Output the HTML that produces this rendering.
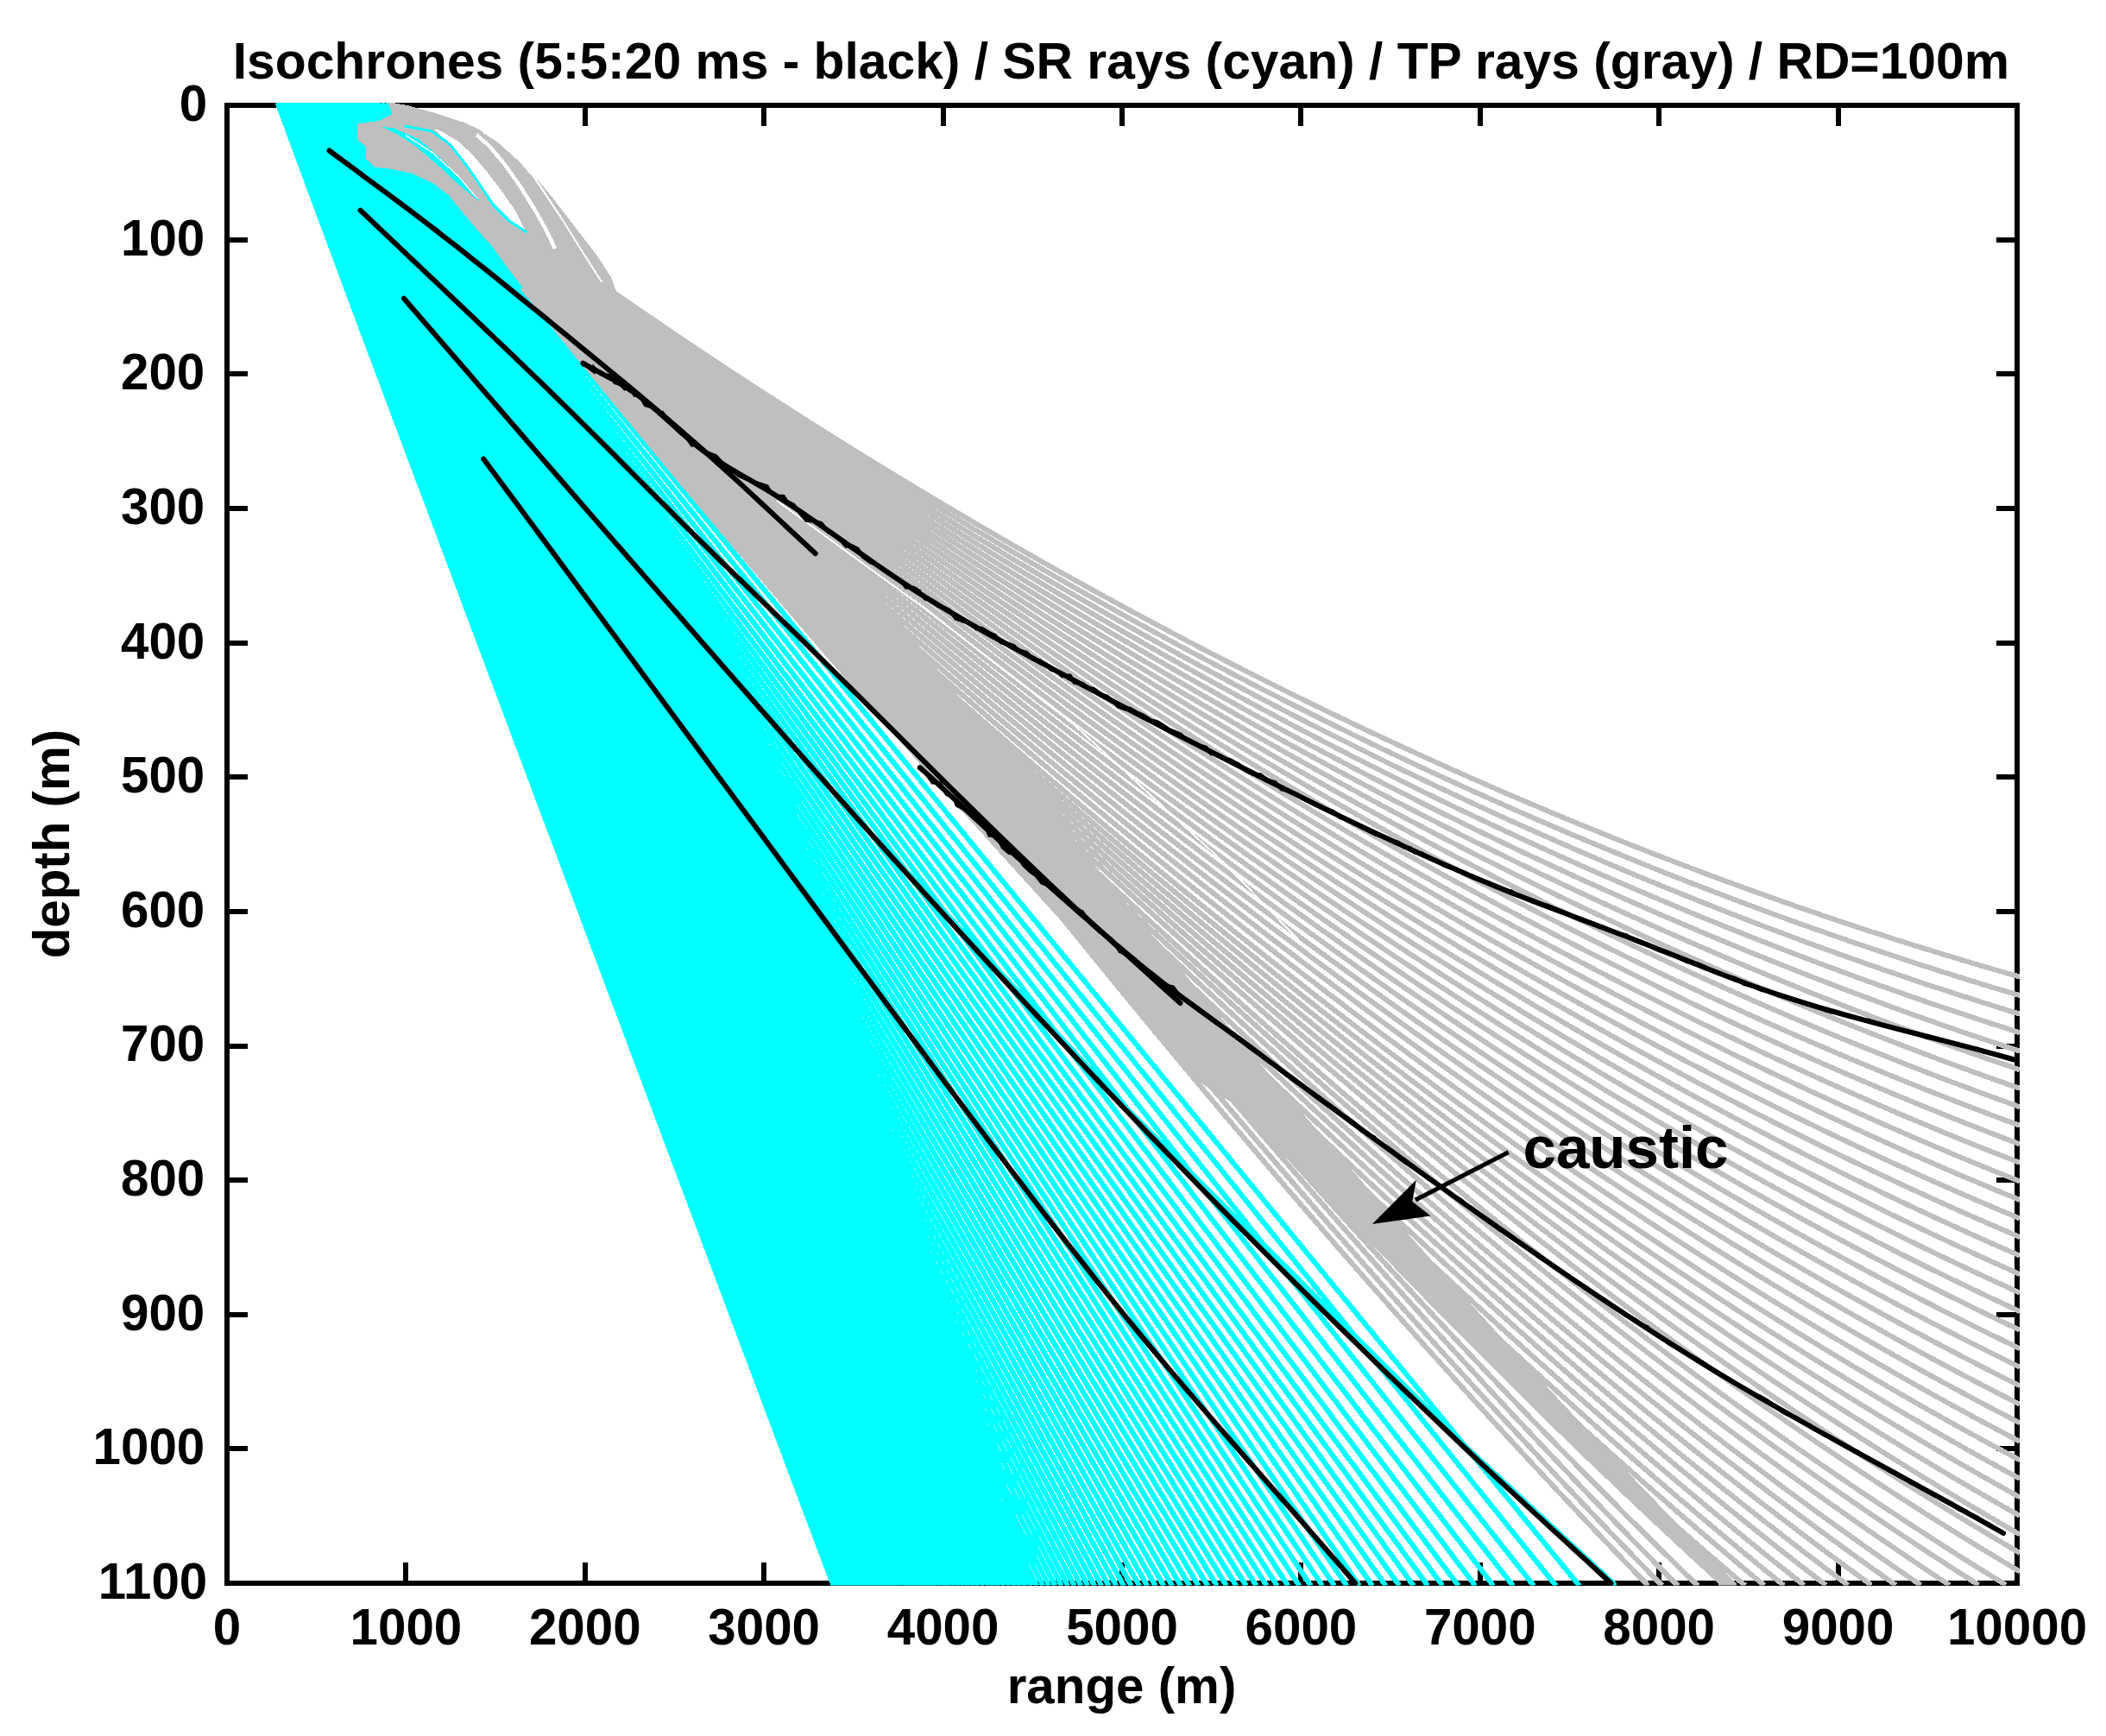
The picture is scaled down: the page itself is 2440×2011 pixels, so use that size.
<!DOCTYPE html><html><head><meta charset="utf-8"><title>Isochrones</title><style>html,body{margin:0;padding:0;background:#fff}svg{display:block}text{font-family:"Liberation Sans",sans-serif;font-weight:bold;fill:#000}</style></head><body>
<svg width="2440" height="2011" viewBox="0 0 2440 2011">
<rect width="2440" height="2011" fill="#fff"/>
<defs><clipPath id="c"><rect x="260.0" y="119.0" width="2080.0" height="1717.5"/></clipPath>
<clipPath id="g"><polygon points="449.0,116.5 471.8,120.5 502.6,129.0 536.8,140.1 553.8,147.8 570.9,158.1 588.0,173.5 605.1,188.8 622.2,205.9 639.3,226.4 656.4,248.7 673.5,270.9 690.6,293.1 707.7,318.8 714.5,337.5 730.0,348.4 780.0,382.4 830.0,415.7 880.0,448.4 930.0,480.5 980.0,511.9 1030.0,542.8 1080.0,573.0 1130.0,602.6 1180.0,631.5 1230.0,659.9 1280.0,687.6 1330.0,714.7 1380.0,741.1 1430.0,767.0 1480.0,792.2 1530.0,816.8 1580.0,840.7 1630.0,864.1 1680.0,886.8 1730.0,908.8 1780.0,930.3 1830.0,951.1 1880.0,971.4 1930.0,990.9 1980.0,1009.9 2030.0,1028.2 2080.0,1045.9 2130.0,1063.0 2180.0,1079.5 2230.0,1095.3 2280.0,1110.5 2330.0,1125.1 2345.0,1129.6 2345.0,1845.0 255.0,1845.0 255.0,117.0"/></clipPath></defs>
<g stroke="#000" stroke-width="6.0" fill="none" shape-rendering="crispEdges">
<rect x="263.0" y="122.0" width="2074.0" height="1712.0"/>
<path d="M470.4 1834.0V1810.0M470.4 122.0V146.0"/>
<path d="M677.8 1834.0V1810.0M677.8 122.0V146.0"/>
<path d="M885.2 1834.0V1810.0M885.2 122.0V146.0"/>
<path d="M1092.6 1834.0V1810.0M1092.6 122.0V146.0"/>
<path d="M1300.0 1834.0V1810.0M1300.0 122.0V146.0"/>
<path d="M1507.4 1834.0V1810.0M1507.4 122.0V146.0"/>
<path d="M1714.8 1834.0V1810.0M1714.8 122.0V146.0"/>
<path d="M1922.2 1834.0V1810.0M1922.2 122.0V146.0"/>
<path d="M2129.6 1834.0V1810.0M2129.6 122.0V146.0"/>
<path d="M263.0 277.6H287.0M2337.0 277.6H2313.0"/>
<path d="M263.0 433.3H287.0M2337.0 433.3H2313.0"/>
<path d="M263.0 588.9H287.0M2337.0 588.9H2313.0"/>
<path d="M263.0 744.6H287.0M2337.0 744.6H2313.0"/>
<path d="M263.0 900.2H287.0M2337.0 900.2H2313.0"/>
<path d="M263.0 1055.8H287.0M2337.0 1055.8H2313.0"/>
<path d="M263.0 1211.5H287.0M2337.0 1211.5H2313.0"/>
<path d="M263.0 1367.1H287.0M2337.0 1367.1H2313.0"/>
<path d="M263.0 1522.8H287.0M2337.0 1522.8H2313.0"/>
<path d="M263.0 1678.4H287.0M2337.0 1678.4H2313.0"/>
</g>
<g clip-path="url(#c)">
<g stroke="#00ffff" stroke-width="6.0" fill="none" shape-rendering="crispEdges">
<path d="M448.1 119.0L640.5 384.0L1829.9 1837.0M442.4 119.0L633.3 384.0L1802.8 1837.0M437.2 119.0L626.4 384.0L1777.1 1837.0M432.4 119.0L620.0 384.0L1753.0 1837.0M427.9 119.0L614.0 384.0L1730.4 1837.0M423.8 119.0L608.3 384.0L1709.3 1837.0M420.1 119.0L603.1 384.0L1689.7 1837.0M416.7 119.0L598.2 384.0L1671.4 1837.0M413.5 119.0L593.6 384.0L1654.3 1837.0M410.4 119.0L589.1 384.0L1637.7 1837.0M407.5 119.0L584.8 384.0L1621.4 1837.0M404.7 119.0L580.6 384.0L1605.6 1837.0M402.0 119.0L576.5 384.0L1590.1 1837.0M399.4 119.0L572.4 384.0L1575.1 1837.0M396.8 119.0L568.5 384.0L1560.4 1837.0M394.4 119.0L564.7 384.0L1546.1 1837.0M392.1 119.0L561.0 384.0L1532.2 1837.0M389.8 119.0L557.4 384.0L1518.6 1837.0M387.7 119.0L553.9 384.0L1505.3 1837.0M385.6 119.0L550.5 384.0L1492.4 1837.0M383.6 119.0L547.1 384.0L1479.8 1837.0M381.7 119.0L543.9 384.0L1467.6 1837.0M379.8 119.0L540.7 384.0L1455.6 1837.0M378.0 119.0L537.6 384.0L1443.8 1837.0M376.2 119.0L534.6 384.0L1432.3 1837.0M374.5 119.0L531.7 384.0L1421.0 1837.0M372.9 119.0L528.8 384.0L1410.0 1837.0M371.3 119.0L526.0 384.0L1399.2 1837.0M369.7 119.0L523.2 384.0L1388.6 1837.0M368.2 119.0L520.5 384.0L1378.2 1837.0M366.8 119.0L517.9 384.0L1368.1 1837.0M365.4 119.0L515.3 384.0L1358.1 1837.0M364.0 119.0L512.8 384.0L1348.3 1837.0M362.7 119.0L510.3 384.0L1338.7 1837.0M361.4 119.0L507.9 384.0L1329.2 1837.0M360.1 119.0L505.5 384.0L1320.0 1837.0M358.9 119.0L503.1 384.0L1310.9 1837.0M357.7 119.0L500.9 384.0L1302.0 1837.0M356.6 119.0L498.7 384.0L1293.3 1837.0M355.5 119.0L496.5 384.0L1284.7 1837.0M354.4 119.0L494.4 384.0L1276.4 1837.0M353.3 119.0L492.3 384.0L1268.2 1837.0M352.3 119.0L490.3 384.0L1260.3 1837.0M351.3 119.0L488.3 384.0L1252.5 1837.0M350.4 119.0L486.4 384.0L1244.8 1837.0M349.4 119.0L484.5 384.0L1237.2 1837.0M348.5 119.0L482.6 384.0L1229.8 1837.0M347.6 119.0L480.8 384.0L1222.5 1837.0M346.8 119.0L479.0 384.0L1215.3 1837.0M345.9 119.0L477.3 384.0L1208.2 1837.0M345.1 119.0L475.5 384.0L1201.3 1837.0M344.3 119.0L473.9 384.0L1194.6 1837.0M343.6 119.0L472.3 384.0L1188.1 1837.0M342.9 119.0L470.7 384.0L1181.8 1837.0M342.1 119.0L469.2 384.0L1175.5 1837.0M341.4 119.0L467.6 384.0L1169.3 1837.0M340.7 119.0L466.1 384.0L1163.1 1837.0M340.1 119.0L464.7 384.0L1157.0 1837.0M339.4 119.0L463.2 384.0L1151.0 1837.0M338.7 119.0L461.7 384.0L1145.1 1837.0M338.1 119.0L460.3 384.0L1139.2 1837.0M337.5 119.0L458.9 384.0L1133.4 1837.0M336.8 119.0L457.5 384.0L1127.6 1837.0M336.2 119.0L456.2 384.0L1122.0 1837.0M335.7 119.0L454.8 384.0L1116.4 1837.0M335.1 119.0L453.5 384.0L1110.8 1837.0M334.5 119.0L452.2 384.0L1105.3 1837.0M333.9 119.0L450.9 384.0L1099.9 1837.0M333.4 119.0L449.6 384.0L1094.6 1837.0M332.9 119.0L448.4 384.0L1089.3 1837.0M332.3 119.0L447.1 384.0L1084.0 1837.0M331.8 119.0L445.9 384.0L1078.9 1837.0M331.3 119.0L444.7 384.0L1073.8 1837.0M330.8 119.0L443.5 384.0L1068.7 1837.0M330.3 119.0L442.3 384.0L1063.7 1837.0M329.8 119.0L441.2 384.0L1058.8 1837.0M329.4 119.0L440.0 384.0L1053.9 1837.0M328.9 119.0L438.9 384.0L1049.1 1837.0M328.4 119.0L437.8 384.0L1044.3 1837.0M328.0 119.0L436.7 384.0L1039.6 1837.0M327.6 119.0L435.6 384.0L1034.9 1837.0M327.1 119.0L434.6 384.0L1030.3 1837.0M326.7 119.0L433.5 384.0L1025.8 1837.0M326.3 119.0L432.5 384.0L1021.3 1837.0M325.9 119.0L431.5 384.0L1016.8 1837.0M325.5 119.0L430.4 384.0L1012.4 1837.0M325.1 119.0L429.5 384.0L1008.1 1837.0M324.7 119.0L428.5 384.0L1003.8 1837.0M324.4 119.0L427.5 384.0L999.6 1837.0M324.0 119.0L426.6 384.0L995.4 1837.0M323.6 119.0L425.6 384.0L991.2 1837.0M323.3 119.0L424.7 384.0L987.1 1837.0M322.9 119.0L423.8 384.0L983.1 1837.0M322.6 119.0L422.9 384.0L979.1 1837.0M322.2 119.0L422.0 384.0L975.1 1837.0M321.9 119.0L421.1 384.0L971.2 1837.0M321.6 119.0L420.2 384.0L967.3 1837.0M321.5 119.0L419.9 384.0L965.7 1837.0"/>
<polyline points="1052.5,1011.3 1301.3,1280.0 1702.5,1680.0 1869.0,1834.0 1871.0,1837.0"/>
</g>
<g clip-path="url(#g)">
<g fill="#bfbfbf" stroke="none" shape-rendering="crispEdges">
<polygon points="449.0,118.0 471.8,122.0 502.6,130.5 536.8,141.6 553.8,149.3 570.9,159.6 588.0,175.0 605.1,190.3 622.2,207.4 639.3,227.9 656.4,250.2 673.5,272.4 690.6,294.6 707.7,320.3 714.5,339.0 716.0,336.0 760.0,372.0 652.0,384.0 635.9,366.4 605.1,332.2 588.0,310.0 570.9,286.1 553.8,267.3 536.8,246.8 519.7,226.2 502.6,212.6 476.9,200.6 451.3,195.5 434.2,193.8 423.9,183.5 423.9,169.8 413.7,161.3 413.7,143.3 439.3,139.9 447.9,135.6 454.7,132.2"/>
<polygon points="606.0,335.0 615.2,345.0 647.5,385.0 679.9,425.0 712.6,465.0 745.5,505.0 778.6,545.0 812.0,585.0 845.6,625.0 879.4,665.0 913.5,705.0 947.8,745.0 982.3,785.0 1017.2,825.0 1052.3,865.0 1087.7,905.0 1123.3,945.0 1159.3,985.0 1172.8,1000.0 1211.6,1040.0 1243.9,1080.0 1276.5,1120.0 1309.3,1160.0 1342.3,1200.0 1375.6,1240.0 1383.9,1250.0 1447.1,1290.0 1484.1,1330.0 1521.6,1370.0 1559.4,1410.0 1597.6,1450.0 1636.3,1490.0 1675.4,1530.0 1715.0,1570.0 1755.1,1610.0 1795.7,1650.0 1836.9,1690.0 1878.8,1730.0 1921.2,1770.0 1964.4,1810.0 1990.6,1834.0 1990.6,1838.0 2011.5,1838.0 2011.5,1834.0 1998.5,1821.0 1959.0,1781.0 1920.0,1741.0 1881.5,1701.0 1843.5,1661.0 1805.9,1621.0 1768.8,1581.0 1732.0,1541.0 1695.7,1501.0 1659.7,1461.0 1624.0,1421.0 1588.7,1381.0 1553.8,1341.0 1519.1,1301.0 1484.7,1261.0 1450.6,1221.0 1416.7,1181.0 1383.1,1141.0 1349.8,1101.0 1316.6,1061.0 1283.7,1021.0 1251.0,981.0 1218.6,941.0 1186.3,901.0 1154.3,861.0 1122.4,821.0 1090.8,781.0 1059.3,741.0 1028.1,701.0 997.0,661.0 966.1,621.0 935.4,581.0 904.9,541.0 874.5,501.0 844.4,461.0 814.4,421.0 784.5,381.0 754.9,341.0"/>
</g>
<g stroke="#bfbfbf" stroke-width="6.0" fill="none" shape-rendering="crispEdges">
<path d="M2340.2 1131.6L2337.0 1130.7L2313.0 1123.8L2289.0 1116.8L2265.0 1109.6L2241.0 1102.3L2217.0 1094.9L2193.0 1087.3L2169.0 1079.5L2145.0 1071.6L2121.0 1063.6L2097.0 1055.4L2073.0 1047.1L2049.0 1038.6L2025.0 1030.0L2001.0 1021.3L1977.0 1012.4L1953.0 1003.3L1929.0 994.2L1905.0 984.8L1881.0 975.4L1857.0 965.7L1833.0 956.0L1809.0 946.1L1785.0 936.0L1761.0 925.8L1737.0 915.5L1713.0 905.0L1689.0 894.4L1665.0 883.6L1641.0 872.7L1617.0 861.6L1593.0 850.4L1569.0 839.1L1545.0 827.6L1521.0 816.0L1497.0 804.2L1473.0 792.3L1449.0 780.2L1425.0 768.0L1401.0 755.7L1377.0 743.2L1353.0 730.5L1329.0 717.7L1305.0 704.8L1281.0 691.7L1257.0 678.5L1233.0 665.2L1209.0 651.6L1185.0 638.0L1161.0 624.2L1137.0 610.3L1113.0 596.2L1089.0 582.0L1065.0 567.6L1041.0 553.1L1017.0 538.4L993.0 523.6L969.0 508.7L945.0 493.6L921.0 478.4L897.0 463.0L873.0 447.5L849.0 431.8L825.0 416.0L801.0 400.0L777.0 383.9L753.0 367.7L729.0 351.3L709.0 337.6M2340.2 1153.1L2337.0 1152.2L2313.0 1145.1L2289.0 1137.8L2265.0 1130.3L2241.0 1122.7L2217.0 1115.0L2193.0 1107.1L2169.0 1099.1L2145.0 1090.9L2121.0 1082.6L2097.0 1074.2L2073.0 1065.6L2049.0 1056.8L2025.0 1047.9L2001.0 1038.9L1977.0 1029.7L1953.0 1020.4L1929.0 1011.0L1905.0 1001.4L1881.0 991.6L1857.0 981.7L1833.0 971.7L1809.0 961.5L1785.0 951.2L1761.0 940.7L1737.0 930.1L1713.0 919.3L1689.0 908.4L1665.0 897.4L1641.0 886.2L1617.0 874.8L1593.0 863.4L1569.0 851.7L1545.0 840.0L1521.0 828.1L1497.0 816.0L1473.0 803.8L1449.0 791.5L1425.0 779.0L1401.0 766.3L1377.0 753.6L1353.0 740.7L1329.0 727.6L1305.0 714.4L1281.0 701.0L1257.0 687.5L1233.0 673.9L1209.0 660.1L1185.0 646.2L1161.0 632.1L1137.0 617.9L1113.0 603.5L1089.0 589.0L1065.0 574.4L1041.0 559.6L1017.0 544.7L993.0 529.6L969.0 514.4L945.0 499.0L921.0 483.5L897.0 467.8L873.0 452.0L849.0 436.1L825.0 420.0L801.0 403.8L777.0 387.4L753.0 370.9L729.0 354.2L705.0 337.4L705.0 337.4M2340.2 1174.7L2337.0 1173.7L2313.0 1166.3L2289.0 1158.7L2265.0 1151.0L2241.0 1143.2L2217.0 1135.2L2193.0 1127.0L2169.0 1118.7L2145.0 1110.3L2121.0 1101.7L2097.0 1093.0L2073.0 1084.1L2049.0 1075.1L2025.0 1065.9L2001.0 1056.6L1977.0 1047.1L1953.0 1037.5L1929.0 1027.8L1905.0 1017.9L1881.0 1007.9L1857.0 997.7L1833.0 987.4L1809.0 976.9L1785.0 966.3L1761.0 955.6L1737.0 944.7L1713.0 933.7L1689.0 922.5L1665.0 911.2L1641.0 899.7L1617.0 888.1L1593.0 876.3L1569.0 864.4L1545.0 852.4L1521.0 840.2L1497.0 827.9L1473.0 815.4L1449.0 802.8L1425.0 790.0L1401.0 777.1L1377.0 764.1L1353.0 750.9L1329.0 737.5L1305.0 724.0L1281.0 710.4L1257.0 696.6L1233.0 682.7L1209.0 668.7L1185.0 654.5L1161.0 640.1L1137.0 625.6L1113.0 611.0L1089.0 596.2L1065.0 581.3L1041.0 566.2L1017.0 551.0L993.0 535.6L969.0 520.1L945.0 504.5L921.0 488.7L897.0 472.8L873.0 456.7L849.0 440.5L825.0 424.1L801.0 407.6L777.0 391.0L753.0 374.2L729.0 357.2L705.0 340.1L701.0 337.3M2340.2 1196.2L2337.0 1195.2L2313.0 1187.5L2289.0 1179.7L2265.0 1171.7L2241.0 1163.6L2217.0 1155.4L2193.0 1146.9L2169.0 1138.4L2145.0 1129.7L2121.0 1120.8L2097.0 1111.8L2073.0 1102.6L2049.0 1093.3L2025.0 1083.9L2001.0 1074.3L1977.0 1064.6L1953.0 1054.7L1929.0 1044.7L1905.0 1034.5L1881.0 1024.2L1857.0 1013.8L1833.0 1003.2L1809.0 992.5L1785.0 981.6L1761.0 970.6L1737.0 959.4L1713.0 948.1L1689.0 936.6L1665.0 925.0L1641.0 913.3L1617.0 901.4L1593.0 889.4L1569.0 877.2L1545.0 864.9L1521.0 852.4L1497.0 839.8L1473.0 827.0L1449.0 814.2L1425.0 801.1L1401.0 787.9L1377.0 774.6L1353.0 761.1L1329.0 747.5L1305.0 733.8L1281.0 719.9L1257.0 705.8L1233.0 691.6L1209.0 677.3L1185.0 662.8L1161.0 648.2L1137.0 633.4L1113.0 618.5L1089.0 603.4L1065.0 588.2L1041.0 572.9L1017.0 557.4L993.0 541.8L969.0 526.0L945.0 510.1L921.0 494.0L897.0 477.8L873.0 461.5L849.0 445.0L825.0 428.3L801.0 411.5L777.0 394.6L753.0 377.5L729.0 360.3L705.0 343.0L697.0 337.1M2340.2 1217.7L2337.0 1216.7L2313.0 1208.8L2289.0 1200.7L2265.0 1192.5L2241.0 1184.1L2217.0 1175.6L2193.0 1166.9L2169.0 1158.0L2145.0 1149.1L2121.0 1139.9L2097.0 1130.7L2073.0 1121.2L2049.0 1111.7L2025.0 1102.0L2001.0 1092.1L1977.0 1082.1L1953.0 1071.9L1929.0 1061.7L1905.0 1051.2L1881.0 1040.6L1857.0 1029.9L1833.0 1019.1L1809.0 1008.0L1785.0 996.9L1761.0 985.6L1737.0 974.1L1713.0 962.6L1689.0 950.8L1665.0 939.0L1641.0 926.9L1617.0 914.8L1593.0 902.5L1569.0 890.0L1545.0 877.4L1521.0 864.7L1497.0 851.8L1473.0 838.8L1449.0 825.6L1425.0 812.3L1401.0 798.8L1377.0 785.2L1353.0 771.5L1329.0 757.6L1305.0 743.5L1281.0 729.4L1257.0 715.0L1233.0 700.6L1209.0 686.0L1185.0 671.2L1161.0 656.3L1137.0 641.3L1113.0 626.1L1089.0 610.8L1065.0 595.3L1041.0 579.7L1017.0 563.9L993.0 548.0L969.0 531.9L945.0 515.7L921.0 499.4L897.0 482.9L873.0 466.3L849.0 449.5L825.0 432.6L801.0 415.6L777.0 398.3L753.0 381.0L729.0 363.5L705.0 345.9L693.0 337.0M2340.2 1239.3L2337.0 1238.2L2313.0 1230.0L2289.0 1221.7L2265.0 1213.2L2241.0 1204.6L2217.0 1195.8L2193.0 1186.8L2169.0 1177.8L2145.0 1168.5L2121.0 1159.1L2097.0 1149.6L2073.0 1139.9L2049.0 1130.0L2025.0 1120.1L2001.0 1109.9L1977.0 1099.6L1953.0 1089.2L1929.0 1078.7L1905.0 1067.9L1881.0 1057.1L1857.0 1046.1L1833.0 1035.0L1809.0 1023.7L1785.0 1012.2L1761.0 1000.7L1737.0 988.9L1713.0 977.1L1689.0 965.1L1665.0 952.9L1641.0 940.6L1617.0 928.2L1593.0 915.6L1569.0 902.9L1545.0 890.0L1521.0 877.0L1497.0 863.9L1473.0 850.6L1449.0 837.1L1425.0 823.5L1401.0 809.8L1377.0 795.9L1353.0 781.9L1329.0 767.7L1305.0 753.4L1281.0 739.0L1257.0 724.4L1233.0 709.6L1209.0 694.7L1185.0 679.7L1161.0 664.5L1137.0 649.2L1113.0 633.8L1089.0 618.1L1065.0 602.4L1041.0 586.5L1017.0 570.5L993.0 554.3L969.0 538.0L945.0 521.5L921.0 504.9L897.0 488.1L873.0 471.2L849.0 454.2L825.0 437.0L801.0 419.7L777.0 402.2L753.0 384.6L729.0 366.8L705.0 348.9L689.0 336.9M2340.2 1260.8L2337.0 1259.7L2313.0 1251.3L2289.0 1242.7L2265.0 1234.0L2241.0 1225.1L2217.0 1216.0L2193.0 1206.8L2169.0 1197.5L2145.0 1188.0L2121.0 1178.3L2097.0 1168.5L2073.0 1158.6L2049.0 1148.4L2025.0 1138.2L2001.0 1127.8L1977.0 1117.2L1953.0 1106.5L1929.0 1095.7L1905.0 1084.7L1881.0 1073.6L1857.0 1062.3L1833.0 1050.9L1809.0 1039.4L1785.0 1027.7L1761.0 1015.8L1737.0 1003.8L1713.0 991.7L1689.0 979.4L1665.0 967.0L1641.0 954.4L1617.0 941.7L1593.0 928.8L1569.0 915.8L1545.0 902.7L1521.0 889.4L1497.0 876.0L1473.0 862.4L1449.0 848.7L1425.0 834.8L1401.0 820.8L1377.0 806.7L1353.0 792.4L1329.0 777.9L1305.0 763.4L1281.0 748.6L1257.0 733.8L1233.0 718.7L1209.0 703.6L1185.0 688.3L1161.0 672.8L1137.0 657.2L1113.0 641.5L1089.0 625.6L1065.0 609.6L1041.0 593.4L1017.0 577.1L993.0 560.7L969.0 544.1L945.0 527.3L921.0 510.4L897.0 493.4L873.0 476.2L849.0 458.9L825.0 441.5L801.0 423.8L777.0 406.1L753.0 388.2L729.0 370.2L705.0 352.0L685.0 336.7M2340.2 1282.3L2337.0 1281.2L2313.0 1272.5L2289.0 1263.7L2265.0 1254.7L2241.0 1245.6L2217.0 1236.3L2193.0 1226.8L2169.0 1217.2L2145.0 1207.5L2121.0 1197.6L2097.0 1187.5L2073.0 1177.3L2049.0 1166.9L2025.0 1156.4L2001.0 1145.7L1977.0 1134.9L1953.0 1123.9L1929.0 1112.8L1905.0 1101.6L1881.0 1090.2L1857.0 1078.6L1833.0 1066.9L1809.0 1055.1L1785.0 1043.1L1761.0 1031.0L1737.0 1018.7L1713.0 1006.3L1689.0 993.8L1665.0 981.1L1641.0 968.2L1617.0 955.3L1593.0 942.1L1569.0 928.9L1545.0 915.4L1521.0 901.9L1497.0 888.2L1473.0 874.3L1449.0 860.3L1425.0 846.2L1401.0 831.9L1377.0 817.5L1353.0 802.9L1329.0 788.2L1305.0 773.4L1281.0 758.4L1257.0 743.2L1233.0 727.9L1209.0 712.5L1185.0 696.9L1161.0 681.2L1137.0 665.3L1113.0 649.3L1089.0 633.2L1065.0 616.9L1041.0 600.4L1017.0 583.9L993.0 567.1L969.0 550.3L945.0 533.2L921.0 516.1L897.0 498.8L873.0 481.3L849.0 463.7L825.0 446.0L801.0 428.1L777.0 410.1L753.0 391.9L729.0 373.6L705.0 355.2L681.0 336.6L681.0 336.6M2340.2 1303.9L2337.0 1302.7L2313.0 1293.8L2289.0 1284.7L2265.0 1275.5L2241.0 1266.1L2217.0 1256.6L2193.0 1246.9L2169.0 1237.0L2145.0 1227.0L2121.0 1216.8L2097.0 1206.5L2073.0 1196.0L2049.0 1185.4L2025.0 1174.6L2001.0 1163.7L1977.0 1152.6L1953.0 1141.3L1929.0 1130.0L1905.0 1118.4L1881.0 1106.8L1857.0 1095.0L1833.0 1083.0L1809.0 1070.9L1785.0 1058.6L1761.0 1046.3L1737.0 1033.7L1713.0 1021.0L1689.0 1008.2L1665.0 995.2L1641.0 982.1L1617.0 968.9L1593.0 955.5L1569.0 941.9L1545.0 928.2L1521.0 914.4L1497.0 900.4L1473.0 886.3L1449.0 872.1L1425.0 857.6L1401.0 843.1L1377.0 828.4L1353.0 813.6L1329.0 798.6L1305.0 783.4L1281.0 768.2L1257.0 752.8L1233.0 737.2L1209.0 721.5L1185.0 705.6L1161.0 689.7L1137.0 673.5L1113.0 657.2L1089.0 640.8L1065.0 624.2L1041.0 607.5L1017.0 590.7L993.0 573.7L969.0 556.5L945.0 539.3L921.0 521.8L897.0 504.2L873.0 486.5L849.0 468.7L825.0 450.7L801.0 432.5L777.0 414.2L753.0 395.8L729.0 377.2L705.0 358.5L681.0 339.6L677.0 336.4M2340.2 1325.4L2337.0 1324.2L2313.0 1315.1L2289.0 1305.7L2265.0 1296.3L2241.0 1286.6L2217.0 1276.8L2193.0 1266.9L2169.0 1256.8L2145.0 1246.5L2121.0 1236.1L2097.0 1225.5L2073.0 1214.8L2049.0 1203.9L2025.0 1192.9L2001.0 1181.7L1977.0 1170.3L1953.0 1158.8L1929.0 1147.2L1905.0 1135.4L1881.0 1123.4L1857.0 1111.4L1833.0 1099.1L1809.0 1086.7L1785.0 1074.2L1761.0 1061.6L1737.0 1048.8L1713.0 1035.8L1689.0 1022.7L1665.0 1009.5L1641.0 996.1L1617.0 982.6L1593.0 968.9L1569.0 955.1L1545.0 941.1L1521.0 927.0L1497.0 912.8L1473.0 898.4L1449.0 883.8L1425.0 869.2L1401.0 854.3L1377.0 839.4L1353.0 824.3L1329.0 809.0L1305.0 793.6L1281.0 778.1L1257.0 762.4L1233.0 746.5L1209.0 730.6L1185.0 714.4L1161.0 698.2L1137.0 681.8L1113.0 665.2L1089.0 648.5L1065.0 631.7L1041.0 614.7L1017.0 597.6L993.0 580.3L969.0 562.9L945.0 545.3L921.0 527.6L897.0 509.8L873.0 491.8L849.0 473.7L825.0 455.4L801.0 437.0L777.0 418.4L753.0 399.7L729.0 380.8L705.0 361.8L681.0 342.7L673.0 336.3M2340.2 1346.9L2337.0 1345.7L2313.0 1336.3L2289.0 1326.8L2265.0 1317.1L2241.0 1307.2L2217.0 1297.2L2193.0 1287.0L2169.0 1276.6L2145.0 1266.1L2121.0 1255.4L2097.0 1244.6L2073.0 1233.6L2049.0 1222.4L2025.0 1211.1L2001.0 1199.7L1977.0 1188.1L1953.0 1176.3L1929.0 1164.4L1905.0 1152.4L1881.0 1140.2L1857.0 1127.8L1833.0 1115.3L1809.0 1102.7L1785.0 1089.9L1761.0 1076.9L1737.0 1063.9L1713.0 1050.6L1689.0 1037.3L1665.0 1023.8L1641.0 1010.1L1617.0 996.3L1593.0 982.4L1569.0 968.3L1545.0 954.1L1521.0 939.7L1497.0 925.2L1473.0 910.5L1449.0 895.7L1425.0 880.7L1401.0 865.6L1377.0 850.4L1353.0 835.0L1329.0 819.5L1305.0 803.8L1281.0 788.0L1257.0 772.1L1233.0 756.0L1209.0 739.7L1185.0 723.3L1161.0 706.8L1137.0 690.1L1113.0 673.3L1089.0 656.3L1065.0 639.2L1041.0 622.0L1017.0 604.6L993.0 587.0L969.0 569.3L945.0 551.5L921.0 533.5L897.0 515.4L873.0 497.2L849.0 478.7L825.0 460.2L801.0 441.5L777.0 422.7L753.0 403.7L729.0 384.6L705.0 365.3L681.0 345.9L669.0 336.1M2340.2 1368.5L2337.0 1367.2L2313.0 1357.6L2289.0 1347.8L2265.0 1337.9L2241.0 1327.7L2217.0 1317.5L2193.0 1307.0L2169.0 1296.4L2145.0 1285.7L2121.0 1274.7L2097.0 1263.7L2073.0 1252.4L2049.0 1241.0L2025.0 1229.5L2001.0 1217.8L1977.0 1205.9L1953.0 1193.9L1929.0 1181.7L1905.0 1169.4L1881.0 1156.9L1857.0 1144.3L1833.0 1131.5L1809.0 1118.6L1785.0 1105.6L1761.0 1092.4L1737.0 1079.0L1713.0 1065.5L1689.0 1051.9L1665.0 1038.1L1641.0 1024.2L1617.0 1010.1L1593.0 995.9L1569.0 981.5L1545.0 967.0L1521.0 952.4L1497.0 937.6L1473.0 922.7L1449.0 907.6L1425.0 892.4L1401.0 877.0L1377.0 861.5L1353.0 845.9L1329.0 830.1L1305.0 814.1L1281.0 798.1L1257.0 781.8L1233.0 765.5L1209.0 748.9L1185.0 732.3L1161.0 715.5L1137.0 698.5L1113.0 681.4L1089.0 664.2L1065.0 646.8L1041.0 629.3L1017.0 611.6L993.0 593.8L969.0 575.9L945.0 557.8L921.0 539.5L897.0 521.1L873.0 502.6L849.0 483.9L825.0 465.1L801.0 446.1L777.0 427.0L753.0 407.8L729.0 388.4L705.0 368.8L681.0 349.2L665.0 336.0M2340.2 1390.0L2337.0 1388.7L2313.0 1378.9L2289.0 1368.8L2265.0 1358.7L2241.0 1348.3L2217.0 1337.8L2193.0 1327.1L2169.0 1316.3L2145.0 1305.3L2121.0 1294.1L2097.0 1282.8L2073.0 1271.3L2049.0 1259.6L2025.0 1247.8L2001.0 1235.9L1977.0 1223.7L1953.0 1211.5L1929.0 1199.0L1905.0 1186.5L1881.0 1173.7L1857.0 1160.9L1833.0 1147.8L1809.0 1134.6L1785.0 1121.3L1761.0 1107.8L1737.0 1094.2L1713.0 1080.5L1689.0 1066.6L1665.0 1052.5L1641.0 1038.3L1617.0 1024.0L1593.0 1009.5L1569.0 994.9L1545.0 980.1L1521.0 965.2L1497.0 950.1L1473.0 934.9L1449.0 919.6L1425.0 904.1L1401.0 888.5L1377.0 872.7L1353.0 856.8L1329.0 840.7L1305.0 824.5L1281.0 808.2L1257.0 791.7L1233.0 775.0L1209.0 758.2L1185.0 741.3L1161.0 724.2L1137.0 707.0L1113.0 689.7L1089.0 672.1L1065.0 654.5L1041.0 636.7L1017.0 618.8L993.0 600.7L969.0 582.5L945.0 564.1L921.0 545.6L897.0 526.9L873.0 508.1L849.0 489.2L825.0 470.1L801.0 450.9L777.0 431.5L753.0 412.0L729.0 392.3L705.0 372.5L681.0 352.5L661.0 335.8M2340.2 1411.5L2337.0 1410.2L2313.0 1400.1L2289.0 1389.9L2265.0 1379.5L2241.0 1368.9L2217.0 1358.1L2193.0 1347.2L2169.0 1336.1L2145.0 1324.9L2121.0 1313.5L2097.0 1301.9L2073.0 1290.2L2049.0 1278.3L2025.0 1266.2L2001.0 1254.0L1977.0 1241.6L1953.0 1229.1L1929.0 1216.4L1905.0 1203.6L1881.0 1190.6L1857.0 1177.4L1833.0 1164.2L1809.0 1150.7L1785.0 1137.1L1761.0 1123.4L1737.0 1109.5L1713.0 1095.5L1689.0 1081.3L1665.0 1067.0L1641.0 1052.5L1617.0 1037.9L1593.0 1023.2L1569.0 1008.3L1545.0 993.2L1521.0 978.1L1497.0 962.7L1473.0 947.3L1449.0 931.6L1425.0 915.9L1401.0 900.0L1377.0 883.9L1353.0 867.8L1329.0 851.4L1305.0 834.9L1281.0 818.3L1257.0 801.6L1233.0 784.7L1209.0 767.6L1185.0 750.4L1161.0 733.1L1137.0 715.6L1113.0 697.9L1089.0 680.2L1065.0 662.3L1041.0 644.2L1017.0 626.0L993.0 607.6L969.0 589.2L945.0 570.5L921.0 551.7L897.0 532.8L873.0 513.7L849.0 494.5L825.0 475.2L801.0 455.7L777.0 436.0L753.0 416.2L729.0 396.3L705.0 376.2L681.0 356.0L657.0 335.6L657.0 335.6M2340.2 1433.1L2337.0 1431.7L2313.0 1421.4L2289.0 1410.9L2265.0 1400.3L2241.0 1389.5L2217.0 1378.5L2193.0 1367.3L2169.0 1356.0L2145.0 1344.5L2121.0 1332.9L2097.0 1321.0L2073.0 1309.1L2049.0 1296.9L2025.0 1284.6L2001.0 1272.2L1977.0 1259.5L1953.0 1246.8L1929.0 1233.8L1905.0 1220.7L1881.0 1207.5L1857.0 1194.1L1833.0 1180.5L1809.0 1166.8L1785.0 1153.0L1761.0 1139.0L1737.0 1124.8L1713.0 1110.5L1689.0 1096.1L1665.0 1081.5L1641.0 1066.8L1617.0 1051.9L1593.0 1036.9L1569.0 1021.7L1545.0 1006.4L1521.0 991.0L1497.0 975.4L1473.0 959.6L1449.0 943.8L1425.0 927.7L1401.0 911.6L1377.0 895.3L1353.0 878.8L1329.0 862.2L1305.0 845.5L1281.0 828.6L1257.0 811.5L1233.0 794.4L1209.0 777.0L1185.0 759.6L1161.0 742.0L1137.0 724.2L1113.0 706.3L1089.0 688.3L1065.0 670.1L1041.0 651.8L1017.0 633.3L993.0 614.7L969.0 595.9L945.0 577.0L921.0 558.0L897.0 538.8L873.0 519.4L849.0 500.0L825.0 480.3L801.0 460.6L777.0 440.7L753.0 420.6L729.0 400.4L705.0 380.1L681.0 359.6L657.0 338.9L653.0 335.5M2340.2 1454.6L2337.0 1453.2L2313.0 1442.7L2289.0 1432.0L2265.0 1421.1L2241.0 1410.0L2217.0 1398.8L2193.0 1387.4L2169.0 1375.9L2145.0 1364.2L2121.0 1352.3L2097.0 1340.2L2073.0 1328.0L2049.0 1315.6L2025.0 1303.1L2001.0 1290.4L1977.0 1277.5L1953.0 1264.5L1929.0 1251.3L1905.0 1237.9L1881.0 1224.4L1857.0 1210.8L1833.0 1197.0L1809.0 1183.0L1785.0 1168.9L1761.0 1154.6L1737.0 1140.2L1713.0 1125.6L1689.0 1110.9L1665.0 1096.1L1641.0 1081.1L1617.0 1066.0L1593.0 1050.7L1569.0 1035.2L1545.0 1019.7L1521.0 1004.0L1497.0 988.1L1473.0 972.1L1449.0 955.9L1425.0 939.7L1401.0 923.2L1377.0 906.6L1353.0 889.9L1329.0 873.1L1305.0 856.0L1281.0 838.9L1257.0 821.6L1233.0 804.1L1209.0 786.6L1185.0 768.8L1161.0 751.0L1137.0 732.9L1113.0 714.8L1089.0 696.5L1065.0 678.0L1041.0 659.4L1017.0 640.7L993.0 621.8L969.0 602.8L945.0 583.6L921.0 564.3L897.0 544.8L873.0 525.2L849.0 505.5L825.0 485.6L801.0 465.5L777.0 445.4L753.0 425.0L729.0 404.6L705.0 384.0L681.0 363.2L657.0 342.3L649.0 335.3M2340.2 1476.1L2337.0 1474.7L2313.0 1463.9L2289.0 1453.0L2265.0 1441.9L2241.0 1430.6L2217.0 1419.2L2193.0 1407.6L2169.0 1395.8L2145.0 1383.8L2121.0 1371.7L2097.0 1359.4L2073.0 1347.0L2049.0 1334.3L2025.0 1321.5L2001.0 1308.6L1977.0 1295.5L1953.0 1282.2L1929.0 1268.7L1905.0 1255.2L1881.0 1241.4L1857.0 1227.5L1833.0 1213.4L1809.0 1199.2L1785.0 1184.8L1761.0 1170.3L1737.0 1155.6L1713.0 1140.8L1689.0 1125.8L1665.0 1110.7L1641.0 1095.5L1617.0 1080.1L1593.0 1064.5L1569.0 1048.8L1545.0 1033.0L1521.0 1017.0L1497.0 1000.9L1473.0 984.6L1449.0 968.2L1425.0 951.6L1401.0 934.9L1377.0 918.1L1353.0 901.1L1329.0 884.0L1305.0 866.7L1281.0 849.3L1257.0 831.7L1233.0 814.0L1209.0 796.1L1185.0 778.1L1161.0 760.0L1137.0 741.7L1113.0 723.3L1089.0 704.7L1065.0 686.0L1041.0 667.1L1017.0 648.1L993.0 629.0L969.0 609.7L945.0 590.3L921.0 570.7L897.0 551.0L873.0 531.1L849.0 511.1L825.0 490.9L801.0 470.6L777.0 450.2L753.0 429.6L729.0 408.8L705.0 388.0L681.0 366.9L657.0 345.8L645.0 335.1M2340.2 1497.7L2337.0 1496.2L2313.0 1485.2L2289.0 1474.1L2265.0 1462.8L2241.0 1451.3L2217.0 1439.6L2193.0 1427.7L2169.0 1415.7L2145.0 1403.5L2121.0 1391.2L2097.0 1378.6L2073.0 1365.9L2049.0 1353.1L2025.0 1340.0L2001.0 1326.8L1977.0 1313.5L1953.0 1299.9L1929.0 1286.3L1905.0 1272.4L1881.0 1258.4L1857.0 1244.3L1833.0 1229.9L1809.0 1215.5L1785.0 1200.8L1761.0 1186.1L1737.0 1171.1L1713.0 1156.0L1689.0 1140.8L1665.0 1125.4L1641.0 1109.9L1617.0 1094.2L1593.0 1078.4L1569.0 1062.5L1545.0 1046.4L1521.0 1030.1L1497.0 1013.7L1473.0 997.2L1449.0 980.5L1425.0 963.7L1401.0 946.7L1377.0 929.6L1353.0 912.4L1329.0 895.0L1305.0 877.4L1281.0 859.7L1257.0 841.9L1233.0 823.9L1209.0 805.8L1185.0 787.5L1161.0 769.1L1137.0 750.6L1113.0 731.9L1089.0 713.1L1065.0 694.1L1041.0 674.9L1017.0 655.7L993.0 636.3L969.0 616.7L945.0 597.0L921.0 577.2L897.0 557.2L873.0 537.0L849.0 516.8L825.0 496.3L801.0 475.8L777.0 455.1L753.0 434.2L729.0 413.2L705.0 392.1L681.0 370.8L657.0 349.3L641.0 335.0M2340.2 1519.2L2337.0 1517.7L2313.0 1506.5L2289.0 1495.1L2265.0 1483.6L2241.0 1471.9L2217.0 1460.0L2193.0 1447.9L2169.0 1435.6L2145.0 1423.2L2121.0 1410.6L2097.0 1397.9L2073.0 1384.9L2049.0 1371.8L2025.0 1358.5L2001.0 1345.1L1977.0 1331.5L1953.0 1317.7L1929.0 1303.8L1905.0 1289.7L1881.0 1275.5L1857.0 1261.1L1833.0 1246.5L1809.0 1231.8L1785.0 1216.9L1761.0 1201.8L1737.0 1186.7L1713.0 1171.3L1689.0 1155.8L1665.0 1140.2L1641.0 1124.4L1617.0 1108.5L1593.0 1092.4L1569.0 1076.2L1545.0 1059.8L1521.0 1043.3L1497.0 1026.6L1473.0 1009.8L1449.0 992.9L1425.0 975.8L1401.0 958.6L1377.0 941.2L1353.0 923.7L1329.0 906.0L1305.0 888.2L1281.0 870.3L1257.0 852.2L1233.0 833.9L1209.0 815.5L1185.0 797.0L1161.0 778.3L1137.0 759.5L1113.0 740.6L1089.0 721.5L1065.0 702.2L1041.0 682.8L1017.0 663.3L993.0 643.6L969.0 623.8L945.0 603.8L921.0 583.7L897.0 563.5L873.0 543.1L849.0 522.5L825.0 501.8L801.0 481.0L777.0 460.0L753.0 438.9L729.0 417.6L705.0 396.2L681.0 374.7L657.0 353.0L637.0 334.8M2340.2 1540.7L2337.0 1539.2L2313.0 1527.8L2289.0 1516.2L2265.0 1504.4L2241.0 1492.5L2217.0 1480.4L2193.0 1468.1L2169.0 1455.6L2145.0 1442.9L2121.0 1430.1L2097.0 1417.1L2073.0 1403.9L2049.0 1390.6L2025.0 1377.1L2001.0 1363.4L1977.0 1349.6L1953.0 1335.6L1929.0 1321.4L1905.0 1307.1L1881.0 1292.6L1857.0 1277.9L1833.0 1263.1L1809.0 1248.1L1785.0 1233.0L1761.0 1217.7L1737.0 1202.2L1713.0 1186.6L1689.0 1170.9L1665.0 1155.0L1641.0 1138.9L1617.0 1122.7L1593.0 1106.4L1569.0 1089.9L1545.0 1073.3L1521.0 1056.5L1497.0 1039.6L1473.0 1022.5L1449.0 1005.3L1425.0 988.0L1401.0 970.5L1377.0 952.8L1353.0 935.1L1329.0 917.1L1305.0 899.1L1281.0 880.8L1257.0 862.5L1233.0 844.0L1209.0 825.3L1185.0 806.6L1161.0 787.6L1137.0 768.5L1113.0 749.3L1089.0 729.9L1065.0 710.4L1041.0 690.8L1017.0 671.0L993.0 651.0L969.0 631.0L945.0 610.7L921.0 590.4L897.0 569.8L873.0 549.2L849.0 528.4L825.0 507.4L801.0 486.3L777.0 465.1L753.0 443.7L729.0 422.2L705.0 400.5L681.0 378.7L657.0 356.7L633.0 334.6L633.0 334.6M2340.2 1562.2L2337.0 1560.7L2313.0 1549.1L2289.0 1537.3L2265.0 1525.3L2241.0 1513.1L2217.0 1500.8L2193.0 1488.3L2169.0 1475.5L2145.0 1462.7L2121.0 1449.6L2097.0 1436.4L2073.0 1423.0L2049.0 1409.4L2025.0 1395.7L2001.0 1381.8L1977.0 1367.7L1953.0 1353.4L1929.0 1339.0L1905.0 1324.4L1881.0 1309.7L1857.0 1294.8L1833.0 1279.7L1809.0 1264.5L1785.0 1249.1L1761.0 1233.6L1737.0 1217.9L1713.0 1202.0L1689.0 1186.0L1665.0 1169.8L1641.0 1153.5L1617.0 1137.1L1593.0 1120.5L1569.0 1103.7L1545.0 1086.8L1521.0 1069.8L1497.0 1052.6L1473.0 1035.3L1449.0 1017.8L1425.0 1000.2L1401.0 982.5L1377.0 964.6L1353.0 946.5L1329.0 928.3L1305.0 910.0L1281.0 891.5L1257.0 872.9L1233.0 854.1L1209.0 835.2L1185.0 816.2L1161.0 797.0L1137.0 777.6L1113.0 758.1L1089.0 738.5L1065.0 718.7L1041.0 698.8L1017.0 678.8L993.0 658.6L969.0 638.2L945.0 617.7L921.0 597.1L897.0 576.3L873.0 555.4L849.0 534.3L825.0 513.1L801.0 491.7L777.0 470.2L753.0 448.6L729.0 426.8L705.0 404.9L681.0 382.8L657.0 360.6L633.0 338.2L629.0 334.5M2340.2 1583.8L2337.0 1582.2L2313.0 1570.4L2289.0 1558.3L2265.0 1546.1L2241.0 1533.8L2217.0 1521.2L2193.0 1508.4L2169.0 1495.5L2145.0 1482.4L2121.0 1469.1L2097.0 1455.7L2073.0 1442.0L2049.0 1428.2L2025.0 1414.3L2001.0 1400.1L1977.0 1385.8L1953.0 1371.3L1929.0 1356.6L1905.0 1341.8L1881.0 1326.8L1857.0 1311.7L1833.0 1296.4L1809.0 1280.9L1785.0 1265.3L1761.0 1249.5L1737.0 1233.5L1713.0 1217.4L1689.0 1201.2L1665.0 1184.8L1641.0 1168.2L1617.0 1151.5L1593.0 1134.6L1569.0 1117.6L1545.0 1100.4L1521.0 1083.1L1497.0 1065.7L1473.0 1048.1L1449.0 1030.4L1425.0 1012.5L1401.0 994.5L1377.0 976.3L1353.0 958.0L1329.0 939.6L1305.0 921.0L1281.0 902.2L1257.0 883.4L1233.0 864.3L1209.0 845.2L1185.0 825.8L1161.0 806.4L1137.0 786.8L1113.0 767.0L1089.0 747.1L1065.0 727.1L1041.0 706.9L1017.0 686.6L993.0 666.1L969.0 645.5L945.0 624.8L921.0 603.9L897.0 582.8L873.0 561.6L849.0 540.3L825.0 518.8L801.0 497.2L777.0 475.5L753.0 453.5L729.0 431.5L705.0 409.3L681.0 387.0L657.0 364.5L633.0 341.9L625.0 334.3M2340.2 1605.3L2337.0 1603.7L2313.0 1591.7L2289.0 1579.4L2265.0 1567.0L2241.0 1554.4L2217.0 1541.6L2193.0 1528.7L2169.0 1515.5L2145.0 1502.2L2121.0 1488.7L2097.0 1475.0L2073.0 1461.1L2049.0 1447.1L2025.0 1432.9L2001.0 1418.5L1977.0 1403.9L1953.0 1389.2L1929.0 1374.3L1905.0 1359.3L1881.0 1344.0L1857.0 1328.6L1833.0 1313.1L1809.0 1297.4L1785.0 1281.5L1761.0 1265.4L1737.0 1249.2L1713.0 1232.9L1689.0 1216.4L1665.0 1199.7L1641.0 1182.9L1617.0 1165.9L1593.0 1148.8L1569.0 1131.5L1545.0 1114.1L1521.0 1096.6L1497.0 1078.9L1473.0 1061.0L1449.0 1043.0L1425.0 1024.9L1401.0 1006.6L1377.0 988.2L1353.0 969.6L1329.0 950.9L1305.0 932.0L1281.0 913.0L1257.0 893.9L1233.0 874.6L1209.0 855.2L1185.0 835.6L1161.0 815.9L1137.0 796.0L1113.0 776.0L1089.0 755.8L1065.0 735.6L1041.0 715.1L1017.0 694.5L993.0 673.8L969.0 652.9L945.0 631.9L921.0 610.8L897.0 589.4L873.0 568.0L849.0 546.4L825.0 524.7L801.0 502.8L777.0 480.8L753.0 458.6L729.0 436.3L705.0 413.8L681.0 391.2L657.0 368.5L633.0 345.6L625.0 337.9M2340.2 1626.8L2337.0 1625.2L2313.0 1612.9L2289.0 1600.5L2265.0 1587.9L2241.0 1575.1L2217.0 1562.1L2193.0 1548.9L2169.0 1535.5L2145.0 1522.0L2121.0 1508.2L2097.0 1494.3L2073.0 1480.2L2049.0 1466.0L2025.0 1451.5L2001.0 1436.9L1977.0 1422.1L1953.0 1407.2L1929.0 1392.0L1905.0 1376.7L1881.0 1361.3L1857.0 1345.6L1833.0 1329.8L1809.0 1313.9L1785.0 1297.7L1761.0 1281.5L1737.0 1265.0L1713.0 1248.4L1689.0 1231.6L1665.0 1214.7L1641.0 1197.6L1617.0 1180.4L1593.0 1163.0L1569.0 1145.5L1545.0 1127.8L1521.0 1110.0L1497.0 1092.1L1473.0 1074.0L1449.0 1055.7L1425.0 1037.3L1401.0 1018.8L1377.0 1000.1L1353.0 981.3L1329.0 962.3L1305.0 943.2L1281.0 923.9L1257.0 904.5L1233.0 884.9L1209.0 865.3L1185.0 845.4L1161.0 825.4L1137.0 805.3L1113.0 785.0L1089.0 764.6L1065.0 744.1L1041.0 723.4L1017.0 702.5L993.0 681.5L969.0 660.4L945.0 639.1L921.0 617.7L897.0 596.1L873.0 574.4L849.0 552.6L825.0 530.6L801.0 508.4L777.0 486.2L753.0 463.7L729.0 441.2L705.0 418.4L681.0 395.6L657.0 372.6L633.0 349.4L621.0 337.8M2340.2 1648.4L2337.0 1646.7L2313.0 1634.2L2289.0 1621.6L2265.0 1608.7L2241.0 1595.7L2217.0 1582.5L2193.0 1569.1L2169.0 1555.5L2145.0 1541.7L2121.0 1527.8L2097.0 1513.7L2073.0 1499.3L2049.0 1484.9L2025.0 1470.2L2001.0 1455.3L1977.0 1440.3L1953.0 1425.1L1929.0 1409.8L1905.0 1394.2L1881.0 1378.5L1857.0 1362.6L1833.0 1346.6L1809.0 1330.4L1785.0 1314.0L1761.0 1297.5L1737.0 1280.8L1713.0 1264.0L1689.0 1246.9L1665.0 1229.8L1641.0 1212.5L1617.0 1195.0L1593.0 1177.3L1569.0 1159.6L1545.0 1141.6L1521.0 1123.6L1497.0 1105.3L1473.0 1087.0L1449.0 1068.5L1425.0 1049.8L1401.0 1031.0L1377.0 1012.0L1353.0 993.0L1329.0 973.7L1305.0 954.4L1281.0 934.8L1257.0 915.2L1233.0 895.4L1209.0 875.4L1185.0 855.3L1161.0 835.1L1137.0 814.7L1113.0 794.2L1089.0 773.5L1065.0 752.7L1041.0 731.7L1017.0 710.6L993.0 689.4L969.0 668.0L945.0 646.4L921.0 624.7L897.0 602.9L873.0 581.0L849.0 558.8L825.0 536.6L801.0 514.2L777.0 491.6L753.0 468.9L729.0 446.1L705.0 423.1L681.0 400.0L657.0 376.8L633.0 353.3L617.0 337.7M2340.2 1669.9L2337.0 1668.2L2313.0 1655.5L2289.0 1642.7L2265.0 1629.6L2241.0 1616.4L2217.0 1603.0L2193.0 1589.3L2169.0 1575.5L2145.0 1561.5L2121.0 1547.4L2097.0 1533.0L2073.0 1518.5L2049.0 1503.8L2025.0 1488.9L2001.0 1473.8L1977.0 1458.5L1953.0 1443.1L1929.0 1427.5L1905.0 1411.8L1881.0 1395.8L1857.0 1379.7L1833.0 1363.4L1809.0 1347.0L1785.0 1330.4L1761.0 1313.6L1737.0 1296.7L1713.0 1279.6L1689.0 1262.3L1665.0 1244.9L1641.0 1227.3L1617.0 1209.6L1593.0 1191.7L1569.0 1173.7L1545.0 1155.5L1521.0 1137.1L1497.0 1118.7L1473.0 1100.0L1449.0 1081.3L1425.0 1062.3L1401.0 1043.3L1377.0 1024.1L1353.0 1004.7L1329.0 985.2L1305.0 965.6L1281.0 945.8L1257.0 925.9L1233.0 905.8L1209.0 885.6L1185.0 865.3L1161.0 844.8L1137.0 824.1L1113.0 803.3L1089.0 782.4L1065.0 761.3L1041.0 740.1L1017.0 718.8L993.0 697.2L969.0 675.6L945.0 653.8L921.0 631.9L897.0 609.8L873.0 587.5L849.0 565.2L825.0 542.7L801.0 520.0L777.0 497.2L753.0 474.3L729.0 451.2L705.0 427.9L681.0 404.5L657.0 381.0L633.0 357.4L613.0 337.5M2340.2 1691.4L2337.0 1689.7L2313.0 1676.8L2289.0 1663.8L2265.0 1650.5L2241.0 1637.1L2217.0 1623.4L2193.0 1609.6L2169.0 1595.6L2145.0 1581.4L2121.0 1567.0L2097.0 1552.4L2073.0 1537.6L2049.0 1522.7L2025.0 1507.6L2001.0 1492.3L1977.0 1476.8L1953.0 1461.1L1929.0 1445.3L1905.0 1429.3L1881.0 1413.1L1857.0 1396.8L1833.0 1380.3L1809.0 1363.6L1785.0 1346.7L1761.0 1329.7L1737.0 1312.5L1713.0 1295.2L1689.0 1277.7L1665.0 1260.0L1641.0 1242.2L1617.0 1224.2L1593.0 1206.1L1569.0 1187.8L1545.0 1169.4L1521.0 1150.8L1497.0 1132.0L1473.0 1113.2L1449.0 1094.1L1425.0 1075.0L1401.0 1055.6L1377.0 1036.2L1353.0 1016.6L1329.0 996.8L1305.0 976.9L1281.0 956.9L1257.0 936.7L1233.0 916.4L1209.0 895.9L1185.0 875.3L1161.0 854.5L1137.0 833.6L1113.0 812.6L1089.0 791.4L1065.0 770.1L1041.0 748.6L1017.0 727.0L993.0 705.2L969.0 683.3L945.0 661.2L921.0 639.1L897.0 616.7L873.0 594.2L849.0 571.6L825.0 548.8L801.0 525.9L777.0 502.8L753.0 479.6L729.0 456.3L705.0 432.8L681.0 409.2L657.0 385.4L633.0 361.4L609.0 337.4L609.0 337.4M2340.2 1712.9L2337.0 1711.2L2313.0 1698.1L2289.0 1684.8L2265.0 1671.2L2241.0 1657.5L2217.0 1643.6L2193.0 1629.6L2169.0 1615.3L2145.0 1600.8L2121.0 1586.1L2097.0 1571.3L2073.0 1556.3L2049.0 1541.1L2025.0 1525.7L2001.0 1510.1L1977.0 1494.4L1953.0 1478.4L1929.0 1462.3L1905.0 1446.0L1881.0 1429.6L1857.0 1412.9L1833.0 1396.1L1809.0 1379.2L1785.0 1362.0L1761.0 1344.7L1737.0 1327.3L1713.0 1309.6L1689.0 1291.8L1665.0 1273.9L1641.0 1255.8L1617.0 1237.5L1593.0 1219.1L1569.0 1200.5L1545.0 1181.7L1521.0 1162.9L1497.0 1143.8L1473.0 1124.6L1449.0 1105.3L1425.0 1085.8L1401.0 1066.2L1377.0 1046.4L1353.0 1026.5L1329.0 1006.5L1305.0 986.3L1281.0 965.9L1257.0 945.5L1233.0 924.8L1209.0 904.1L1185.0 883.1L1161.0 862.1L1137.0 840.9L1113.0 819.5L1089.0 798.0L1065.0 776.4L1041.0 754.6L1017.0 732.7L993.0 710.6L969.0 688.4L945.0 666.1L921.0 643.6L897.0 620.9L873.0 598.1L849.0 575.2L825.0 552.1L801.0 528.9L777.0 505.5L753.0 482.0L729.0 458.4L705.0 434.6L681.0 410.6L657.0 386.5L633.0 362.3L609.0 337.9L609.0 337.9M2340.2 1734.5L2337.0 1732.7L2313.0 1719.3L2289.0 1705.7L2265.0 1692.0L2241.0 1678.0L2217.0 1663.8L2193.0 1649.5L2169.0 1634.9L2145.0 1620.2L2121.0 1605.2L2097.0 1590.1L2073.0 1574.8L2049.0 1559.3L2025.0 1543.7L2001.0 1527.8L1977.0 1511.8L1953.0 1495.6L1929.0 1479.2L1905.0 1462.6L1881.0 1445.9L1857.0 1428.9L1833.0 1411.8L1809.0 1394.6L1785.0 1377.1L1761.0 1359.5L1737.0 1341.8L1713.0 1323.8L1689.0 1305.8L1665.0 1287.5L1641.0 1269.1L1617.0 1250.5L1593.0 1231.8L1569.0 1212.9L1545.0 1193.8L1521.0 1174.6L1497.0 1155.3L1473.0 1135.8L1449.0 1116.2L1425.0 1096.4L1401.0 1076.4L1377.0 1056.4L1353.0 1036.1L1329.0 1015.8L1305.0 995.3L1281.0 974.6L1257.0 953.8L1233.0 932.9L1209.0 911.8L1185.0 890.6L1161.0 869.2L1137.0 847.7L1113.0 826.0L1089.0 804.2L1065.0 782.3L1041.0 760.2L1017.0 737.9L993.0 715.6L969.0 693.0L945.0 670.4L921.0 647.6L897.0 624.6L873.0 601.5L849.0 578.3L825.0 554.9L801.0 531.3L777.0 507.7L753.0 483.8L729.0 459.9L705.0 435.8L681.0 411.5L657.0 387.1L633.0 362.6L609.0 337.9L609.0 337.9M2340.2 1756.0L2337.0 1754.2L2313.0 1740.6L2289.0 1726.7L2265.0 1712.7L2241.0 1698.4L2217.0 1684.0L2193.0 1669.4L2169.0 1654.6L2145.0 1639.6L2121.0 1624.4L2097.0 1609.0L2073.0 1593.4L2049.0 1577.6L2025.0 1561.7L2001.0 1545.5L1977.0 1529.2L1953.0 1512.7L1929.0 1496.0L1905.0 1479.2L1881.0 1462.1L1857.0 1444.9L1833.0 1427.5L1809.0 1410.0L1785.0 1392.3L1761.0 1374.4L1737.0 1356.3L1713.0 1338.1L1689.0 1319.7L1665.0 1301.1L1641.0 1282.4L1617.0 1263.5L1593.0 1244.5L1569.0 1225.3L1545.0 1205.9L1521.0 1186.4L1497.0 1166.8L1473.0 1147.0L1449.0 1127.0L1425.0 1106.9L1401.0 1086.7L1377.0 1066.3L1353.0 1045.8L1329.0 1025.1L1305.0 1004.3L1281.0 983.3L1257.0 962.2L1233.0 940.9L1209.0 919.6L1185.0 898.0L1161.0 876.3L1137.0 854.5L1113.0 832.5L1089.0 810.4L1065.0 788.2L1041.0 765.8L1017.0 743.2L993.0 720.5L969.0 697.7L945.0 674.7L921.0 651.6L897.0 628.3L873.0 604.9L849.0 581.3L825.0 557.6L801.0 533.8L777.0 509.8L753.0 485.7L729.0 461.4L705.0 437.0L681.0 412.4L657.0 387.7L633.0 362.9L609.0 337.9L609.0 337.9M2340.2 1777.5L2337.0 1775.7L2313.0 1761.8L2289.0 1747.7L2265.0 1733.4L2241.0 1718.9L2217.0 1704.2L2193.0 1689.3L2169.0 1674.2L2145.0 1658.9L2121.0 1643.5L2097.0 1627.8L2073.0 1611.9L2049.0 1595.9L2025.0 1579.7L2001.0 1563.2L1977.0 1546.6L1953.0 1529.9L1929.0 1512.9L1905.0 1495.7L1881.0 1478.4L1857.0 1460.9L1833.0 1443.3L1809.0 1425.4L1785.0 1407.4L1761.0 1389.2L1737.0 1370.8L1713.0 1352.3L1689.0 1333.6L1665.0 1314.8L1641.0 1295.7L1617.0 1276.5L1593.0 1257.2L1569.0 1237.7L1545.0 1218.1L1521.0 1198.2L1497.0 1178.3L1473.0 1158.2L1449.0 1137.9L1425.0 1117.5L1401.0 1096.9L1377.0 1076.2L1353.0 1055.4L1329.0 1034.4L1305.0 1013.3L1281.0 992.0L1257.0 970.6L1233.0 949.0L1209.0 927.3L1185.0 905.5L1161.0 883.5L1137.0 861.3L1113.0 839.0L1089.0 816.6L1065.0 794.0L1041.0 771.3L1017.0 748.5L993.0 725.5L969.0 702.3L945.0 679.0L921.0 655.6L897.0 632.0L873.0 608.3L849.0 584.4L825.0 560.4L801.0 536.3L777.0 512.0L753.0 487.5L729.0 462.9L705.0 438.2L681.0 413.3L657.0 388.3L633.0 363.1L609.0 337.8L609.0 337.8M2340.2 1799.1L2337.0 1797.2L2313.0 1783.0L2289.0 1768.7L2265.0 1754.1L2241.0 1739.3L2217.0 1724.4L2193.0 1709.2L2169.0 1693.9L2145.0 1678.3L2121.0 1662.6L2097.0 1646.6L2073.0 1630.5L2049.0 1614.2L2025.0 1597.7L2001.0 1581.0L1977.0 1564.1L1953.0 1547.0L1929.0 1529.8L1905.0 1512.3L1881.0 1494.7L1857.0 1476.9L1833.0 1459.0L1809.0 1440.8L1785.0 1422.5L1761.0 1404.0L1737.0 1385.4L1713.0 1366.5L1689.0 1347.5L1665.0 1328.4L1641.0 1309.1L1617.0 1289.6L1593.0 1269.9L1569.0 1250.1L1545.0 1230.2L1521.0 1210.1L1497.0 1189.8L1473.0 1169.4L1449.0 1148.8L1425.0 1128.1L1401.0 1107.2L1377.0 1086.2L1353.0 1065.0L1329.0 1043.7L1305.0 1022.3L1281.0 1000.7L1257.0 979.0L1233.0 957.1L1209.0 935.1L1185.0 912.9L1161.0 890.6L1137.0 868.2L1113.0 845.6L1089.0 822.8L1065.0 799.9L1041.0 776.9L1017.0 753.7L993.0 730.4L969.0 707.0L945.0 683.4L921.0 659.6L897.0 635.7L873.0 611.7L849.0 587.5L825.0 563.2L801.0 538.7L777.0 514.1L753.0 489.3L729.0 464.4L705.0 439.4L681.0 414.2L657.0 388.9L633.0 363.4L609.0 337.8L609.0 337.8M2340.2 1820.6L2337.0 1818.7L2313.0 1804.3L2289.0 1789.7L2265.0 1774.8L2241.0 1759.8L2217.0 1744.6L2193.0 1729.1L2169.0 1713.5L2145.0 1697.7L2121.0 1681.7L2097.0 1665.5L2073.0 1649.0L2049.0 1632.4L2025.0 1615.7L2001.0 1598.7L1977.0 1581.5L1953.0 1564.2L1929.0 1546.6L1905.0 1528.9L1881.0 1511.0L1857.0 1492.9L1833.0 1474.7L1809.0 1456.2L1785.0 1437.6L1761.0 1418.9L1737.0 1399.9L1713.0 1380.8L1689.0 1361.5L1665.0 1342.0L1641.0 1322.4L1617.0 1302.6L1593.0 1282.7L1569.0 1262.6L1545.0 1242.3L1521.0 1221.9L1497.0 1201.3L1473.0 1180.6L1449.0 1159.7L1425.0 1138.7L1401.0 1117.5L1377.0 1096.2L1353.0 1074.7L1329.0 1053.1L1305.0 1031.3L1281.0 1009.4L1257.0 987.4L1233.0 965.2L1209.0 942.9L1185.0 920.4L1161.0 897.8L1137.0 875.0L1113.0 852.1L1089.0 829.0L1065.0 805.8L1041.0 782.5L1017.0 759.0L993.0 735.4L969.0 711.6L945.0 687.7L921.0 663.6L897.0 639.4L873.0 615.1L849.0 590.6L825.0 566.0L801.0 541.2L777.0 516.3L753.0 491.2L729.0 466.0L705.0 440.6L681.0 415.1L657.0 389.5L633.0 363.7L609.0 337.8L609.0 337.8M2323.9 1836.0L2320.7 1834.0L2296.7 1819.1L2272.7 1804.1L2248.7 1788.8L2224.7 1773.3L2200.7 1757.6L2176.7 1741.8L2152.7 1725.7L2128.7 1709.4L2104.7 1692.9L2080.7 1676.3L2056.7 1659.4L2032.7 1642.3L2008.7 1625.1L1984.7 1607.7L1960.7 1590.0L1936.7 1572.2L1912.7 1554.2L1888.7 1536.0L1864.7 1517.7L1840.7 1499.1L1816.7 1480.4L1792.7 1461.5L1768.7 1442.5L1744.7 1423.2L1720.7 1403.8L1696.7 1384.2L1672.7 1364.4L1648.7 1344.5L1624.7 1324.4L1600.7 1304.2L1576.7 1283.8L1552.7 1263.2L1528.7 1242.5L1504.7 1221.6L1480.7 1200.5L1456.7 1179.3L1432.7 1158.0L1408.7 1136.5L1384.7 1114.8L1360.7 1093.1L1336.7 1071.1L1312.7 1049.0L1288.7 1026.8L1264.7 1004.5L1240.7 981.9L1216.7 959.3L1192.7 936.5L1168.7 913.6L1144.7 890.5L1120.7 867.2L1096.7 843.9L1072.7 820.3L1048.7 796.7L1024.7 772.9L1000.7 748.9L976.7 724.8L952.7 700.6L928.7 676.2L904.7 651.7L880.7 627.0L856.7 602.2L832.7 577.3L808.7 552.2L784.7 526.9L760.7 501.5L736.7 476.0L712.7 450.3L688.7 424.5L664.7 398.5L640.7 372.4L616.7 346.2L608.7 337.4M2292.4 1836.0L2289.2 1834.0L2265.2 1818.6L2241.2 1803.0L2217.2 1787.3L2193.2 1771.3L2169.2 1755.1L2145.2 1738.7L2121.2 1722.1L2097.2 1705.3L2073.2 1688.3L2049.2 1671.1L2025.2 1653.7L2001.2 1636.2L1977.2 1618.4L1953.2 1600.5L1929.2 1582.3L1905.2 1564.0L1881.2 1545.5L1857.2 1526.8L1833.2 1508.0L1809.2 1488.9L1785.2 1469.7L1761.2 1450.3L1737.2 1430.7L1713.2 1411.0L1689.2 1391.0L1665.2 1371.0L1641.2 1350.7L1617.2 1330.3L1593.2 1309.7L1569.2 1288.9L1545.2 1268.0L1521.2 1247.0L1497.2 1225.8L1473.2 1204.4L1449.2 1182.8L1425.2 1161.2L1401.2 1139.3L1377.2 1117.3L1353.2 1095.2L1329.2 1072.9L1305.2 1050.5L1281.2 1028.0L1257.2 1005.3L1233.2 982.4L1209.2 959.4L1185.2 936.3L1161.2 913.0L1137.2 889.6L1113.2 866.0L1089.2 842.3L1065.2 818.5L1041.2 794.5L1017.2 770.3L993.2 746.0L969.2 721.6L945.2 697.0L921.2 672.3L897.2 647.5L873.2 622.5L849.2 597.3L825.2 572.0L801.2 546.6L777.2 521.0L753.2 495.3L729.2 469.4L705.2 443.4L681.2 417.2L657.2 390.9L633.2 364.5L609.2 337.9L609.2 337.9M2258.5 1836.1L2255.3 1834.0L2231.3 1818.1L2207.3 1801.9L2183.3 1785.5L2159.3 1769.0L2135.3 1752.2L2111.3 1735.3L2087.3 1718.1L2063.3 1700.7L2039.3 1683.2L2015.3 1665.4L1991.3 1647.5L1967.3 1629.4L1943.3 1611.0L1919.3 1592.5L1895.3 1573.8L1871.3 1554.9L1847.3 1535.9L1823.3 1516.6L1799.3 1497.2L1775.3 1477.6L1751.3 1457.8L1727.3 1437.8L1703.3 1417.7L1679.3 1397.4L1655.3 1376.9L1631.3 1356.3L1607.3 1335.5L1583.3 1314.5L1559.3 1293.4L1535.3 1272.1L1511.3 1250.6L1487.3 1229.0L1463.3 1207.2L1439.3 1185.3L1415.3 1163.2L1391.3 1141.0L1367.3 1118.6L1343.3 1096.1L1319.3 1073.5L1295.3 1050.7L1271.3 1027.7L1247.3 1004.6L1223.3 981.4L1199.3 958.0L1175.3 934.5L1151.3 910.8L1127.3 887.0L1103.3 863.0L1079.3 838.9L1055.3 814.7L1031.3 790.3L1007.3 765.8L983.3 741.1L959.3 716.3L935.3 691.3L911.3 666.2L887.3 641.0L863.3 615.6L839.3 590.0L815.3 564.3L791.3 538.5L767.3 512.5L743.3 486.4L719.3 460.2L695.3 433.8L671.3 407.2L647.3 380.5L623.3 353.7L607.3 335.7M2225.2 1836.2L2222.0 1834.0L2198.0 1817.5L2174.0 1800.7L2150.0 1783.8L2126.0 1766.7L2102.0 1749.3L2078.0 1731.8L2054.0 1714.1L2030.0 1696.1L2006.0 1678.0L1982.0 1659.7L1958.0 1641.1L1934.0 1622.4L1910.0 1603.5L1886.0 1584.5L1862.0 1565.2L1838.0 1545.7L1814.0 1526.1L1790.0 1506.3L1766.0 1486.3L1742.0 1466.1L1718.0 1445.7L1694.0 1425.2L1670.0 1404.5L1646.0 1383.7L1622.0 1362.6L1598.0 1341.4L1574.0 1320.0L1550.0 1298.5L1526.0 1276.8L1502.0 1255.0L1478.0 1233.0L1454.0 1210.8L1430.0 1188.5L1406.0 1166.0L1382.0 1143.4L1358.0 1120.6L1334.0 1097.7L1310.0 1074.6L1286.0 1051.4L1262.0 1028.1L1238.0 1004.6L1214.0 981.0L1190.0 957.2L1166.0 933.3L1142.0 909.2L1118.0 885.0L1094.0 860.6L1070.0 836.1L1046.0 811.5L1022.0 786.7L998.0 761.8L974.0 736.7L950.0 711.5L926.0 686.1L902.0 660.6L878.0 634.9L854.0 609.1L830.0 583.2L806.0 557.1L782.0 530.9L758.0 504.5L734.0 478.0L710.0 451.4L686.0 424.6L662.0 397.6L638.0 370.5L614.0 343.3L606.0 334.2M2196.6 1836.3L2193.4 1834.0L2169.4 1817.0L2145.4 1799.7L2121.4 1782.3L2097.4 1764.6L2073.4 1746.8L2049.4 1728.7L2025.4 1710.5L2001.4 1692.0L1977.4 1673.4L1953.4 1654.6L1929.4 1635.5L1905.4 1616.3L1881.4 1596.9L1857.4 1577.3L1833.4 1557.5L1809.4 1537.6L1785.4 1517.4L1761.4 1497.1L1737.4 1476.6L1713.4 1455.9L1689.4 1435.1L1665.4 1414.1L1641.4 1392.9L1617.4 1371.5L1593.4 1350.0L1569.4 1328.3L1545.4 1306.4L1521.4 1284.4L1497.4 1262.2L1473.4 1239.8L1449.4 1217.3L1425.4 1194.7L1401.4 1171.9L1377.4 1148.9L1353.4 1125.8L1329.4 1102.6L1305.4 1079.2L1281.4 1055.6L1257.4 1031.9L1233.4 1008.1L1209.4 984.1L1185.4 960.0L1161.4 935.8L1137.4 911.3L1113.4 886.8L1089.4 862.1L1065.4 837.3L1041.4 812.3L1017.4 787.2L993.4 761.9L969.4 736.5L945.4 710.9L921.4 685.2L897.4 659.4L873.4 633.4L849.4 607.3L825.4 581.0L801.4 554.6L777.4 528.0L753.4 501.3L729.4 474.4L705.4 447.4L681.4 420.3L657.4 393.0L633.4 365.6L609.4 338.0L605.4 333.4M2168.2 1836.3L2165.0 1834.0L2141.0 1816.4L2117.0 1798.7L2093.0 1780.7L2069.0 1762.5L2045.0 1744.2L2021.0 1725.6L1997.0 1706.8L1973.0 1687.9L1949.0 1668.7L1925.0 1649.4L1901.0 1629.8L1877.0 1610.1L1853.0 1590.1L1829.0 1570.0L1805.0 1549.7L1781.0 1529.3L1757.0 1508.6L1733.0 1487.8L1709.0 1466.8L1685.0 1445.6L1661.0 1424.2L1637.0 1402.7L1613.0 1380.9L1589.0 1359.1L1565.0 1337.0L1541.0 1314.8L1517.0 1292.5L1493.0 1269.9L1469.0 1247.2L1445.0 1224.4L1421.0 1201.4L1397.0 1178.2L1373.0 1154.9L1349.0 1131.5L1325.0 1107.9L1301.0 1084.1L1277.0 1060.2L1253.0 1036.2L1229.0 1012.0L1205.0 987.7L1181.0 963.2L1157.0 938.6L1133.0 913.9L1109.0 889.0L1085.0 863.9L1061.0 838.7L1037.0 813.4L1013.0 787.9L989.0 762.3L965.0 736.6L941.0 710.6L917.0 684.6L893.0 658.4L869.0 632.1L845.0 605.6L821.0 579.0L797.0 552.2L773.0 525.3L749.0 498.2L725.0 471.0L701.0 443.7L677.0 416.2L653.0 388.5L629.0 360.8L609.0 337.5M2141.2 1836.4L2138.0 1834.0L2114.0 1815.9L2090.0 1797.7L2066.0 1779.2L2042.0 1760.5L2018.0 1741.6L1994.0 1722.5L1970.0 1703.3L1946.0 1683.8L1922.0 1664.1L1898.0 1644.3L1874.0 1624.2L1850.0 1604.0L1826.0 1583.5L1802.0 1562.9L1778.0 1542.1L1754.0 1521.1L1730.0 1500.0L1706.0 1478.6L1682.0 1457.1L1658.0 1435.4L1634.0 1413.6L1610.0 1391.5L1586.0 1369.3L1562.0 1346.9L1538.0 1324.4L1514.0 1301.7L1490.0 1278.8L1466.0 1255.8L1442.0 1232.6L1418.0 1209.3L1394.0 1185.8L1370.0 1162.1L1346.0 1138.4L1322.0 1114.4L1298.0 1090.3L1274.0 1066.1L1250.0 1041.7L1226.0 1017.2L1202.0 992.5L1178.0 967.7L1154.0 942.8L1130.0 917.7L1106.0 892.5L1082.0 867.1L1058.0 841.6L1034.0 815.9L1010.0 790.1L986.0 764.1L962.0 738.0L938.0 711.8L914.0 685.4L890.0 658.8L866.0 632.2L842.0 605.3L818.0 578.4L794.0 551.3L770.0 524.0L746.0 496.6L722.0 469.1L698.0 441.4L674.0 413.6L650.0 385.6L626.0 357.5L606.0 333.9M2115.7 1836.5L2112.5 1834.0L2088.5 1815.4L2064.5 1796.7L2040.5 1777.7L2016.5 1758.5L1992.5 1739.1L1968.5 1719.6L1944.5 1699.8L1920.5 1679.8L1896.5 1659.7L1872.5 1639.3L1848.5 1618.8L1824.5 1598.0L1800.5 1577.1L1776.5 1556.0L1752.5 1534.7L1728.5 1513.2L1704.5 1491.6L1680.5 1469.8L1656.5 1447.8L1632.5 1425.6L1608.5 1403.2L1584.5 1380.7L1560.5 1358.0L1536.5 1335.2L1512.5 1312.1L1488.5 1288.9L1464.5 1265.6L1440.5 1242.1L1416.5 1218.4L1392.5 1194.6L1368.5 1170.7L1344.5 1146.5L1320.5 1122.3L1296.5 1097.9L1272.5 1073.3L1248.5 1048.6L1224.5 1023.8L1200.5 998.8L1176.5 973.6L1152.5 948.4L1128.5 922.9L1104.5 897.4L1080.5 871.7L1056.5 845.8L1032.5 819.8L1008.5 793.7L984.5 767.4L960.5 741.0L936.5 714.4L912.5 687.7L888.5 660.8L864.5 633.8L840.5 606.7L816.5 579.4L792.5 552.0L768.5 524.4L744.5 496.6L720.5 468.8L696.5 440.8L672.5 412.6L648.5 384.3L624.5 355.9L608.5 336.8M2090.4 1836.5L2087.2 1834.0L2063.2 1814.9L2039.2 1795.7L2015.2 1776.2L1991.2 1756.5L1967.2 1736.6L1943.2 1716.5L1919.2 1696.3L1895.2 1675.8L1871.2 1655.1L1847.2 1634.3L1823.2 1613.2L1799.2 1592.0L1775.2 1570.6L1751.2 1549.0L1727.2 1527.2L1703.2 1505.2L1679.2 1483.1L1655.2 1460.7L1631.2 1438.2L1607.2 1415.5L1583.2 1392.7L1559.2 1369.7L1535.2 1346.5L1511.2 1323.1L1487.2 1299.6L1463.2 1276.0L1439.2 1252.1L1415.2 1228.1L1391.2 1204.0L1367.2 1179.7L1343.2 1155.2L1319.2 1130.6L1295.2 1105.9L1271.2 1081.0L1247.2 1056.0L1223.2 1030.8L1199.2 1005.5L1175.2 980.0L1151.2 954.4L1127.2 928.6L1103.2 902.7L1079.2 876.7L1055.2 850.5L1031.2 824.2L1007.2 797.7L983.2 771.1L959.2 744.3L935.2 717.4L911.2 690.3L887.2 663.1L863.2 635.8L839.2 608.3L815.2 580.7L791.2 552.9L767.2 525.0L743.2 496.9L719.2 468.7L695.2 440.4L671.2 411.9L647.2 383.3L623.2 354.5L607.2 335.2M2066.7 1836.6L2063.5 1834.0L2039.5 1814.4L2015.5 1794.7L1991.5 1774.7L1967.5 1754.6L1943.5 1734.2L1919.5 1713.6L1895.5 1692.9L1871.5 1671.9L1847.5 1650.8L1823.5 1629.4L1799.5 1607.9L1775.5 1586.2L1751.5 1564.3L1727.5 1542.2L1703.5 1519.9L1679.5 1497.5L1655.5 1474.8L1631.5 1452.0L1607.5 1429.0L1583.5 1405.9L1559.5 1382.6L1535.5 1359.1L1511.5 1335.4L1487.5 1311.6L1463.5 1287.6L1439.5 1263.5L1415.5 1239.2L1391.5 1214.7L1367.5 1190.1L1343.5 1165.3L1319.5 1140.4L1295.5 1115.3L1271.5 1090.1L1247.5 1064.8L1223.5 1039.3L1199.5 1013.6L1175.5 987.8L1151.5 961.9L1127.5 935.8L1103.5 909.6L1079.5 883.2L1055.5 856.7L1031.5 830.1L1007.5 803.3L983.5 776.4L959.5 749.3L935.5 722.0L911.5 694.7L887.5 667.2L863.5 639.5L839.5 611.7L815.5 583.8L791.5 555.7L767.5 527.4L743.5 499.0L719.5 470.5L695.5 441.9L671.5 413.0L647.5 384.1L623.5 355.0L607.5 335.5M2044.2 1836.7L2041.0 1834.0L2017.0 1814.0L1993.0 1793.7L1969.0 1773.3L1945.0 1752.7L1921.0 1731.8L1897.0 1710.8L1873.0 1689.6L1849.0 1668.1L1825.0 1646.5L1801.0 1624.7L1777.0 1602.7L1753.0 1580.5L1729.0 1558.1L1705.0 1535.6L1681.0 1512.8L1657.0 1489.9L1633.0 1466.8L1609.0 1443.6L1585.0 1420.1L1561.0 1396.5L1537.0 1372.7L1513.0 1348.7L1489.0 1324.6L1465.0 1300.3L1441.0 1275.9L1417.0 1251.3L1393.0 1226.5L1369.0 1201.6L1345.0 1176.5L1321.0 1151.3L1297.0 1125.9L1273.0 1100.4L1249.0 1074.8L1225.0 1048.9L1201.0 1023.0L1177.0 996.9L1153.0 970.7L1129.0 944.3L1105.0 917.8L1081.0 891.1L1057.0 864.3L1033.0 837.3L1009.0 810.2L985.0 783.0L961.0 755.6L937.0 728.0L913.0 700.4L889.0 672.5L865.0 644.6L841.0 616.5L817.0 588.2L793.0 559.8L769.0 531.3L745.0 502.6L721.0 473.7L697.0 444.8L673.0 415.7L649.0 386.4L625.0 357.0L609.0 337.3M2021.8 1836.7L2018.6 1834.0L1994.6 1813.5L1970.6 1792.8L1946.6 1771.9L1922.6 1750.7L1898.6 1729.4L1874.6 1707.9L1850.6 1686.2L1826.6 1664.3L1802.6 1642.2L1778.6 1619.9L1754.6 1597.4L1730.6 1574.7L1706.6 1551.9L1682.6 1528.8L1658.6 1505.6L1634.6 1482.2L1610.6 1458.7L1586.6 1434.9L1562.6 1411.0L1538.6 1386.9L1514.6 1362.6L1490.6 1338.2L1466.6 1313.6L1442.6 1288.8L1418.6 1263.9L1394.6 1238.8L1370.6 1213.6L1346.6 1188.2L1322.6 1162.7L1298.6 1137.0L1274.6 1111.2L1250.6 1085.2L1226.6 1059.1L1202.6 1032.8L1178.6 1006.4L1154.6 979.8L1130.6 953.1L1106.6 926.3L1082.6 899.3L1058.6 872.2L1034.6 844.9L1010.6 817.5L986.6 789.9L962.6 762.2L938.6 734.3L914.6 706.3L890.6 678.2L866.6 649.9L842.6 621.5L818.6 592.9L794.6 564.2L770.6 535.3L746.6 506.3L722.6 477.2L698.6 447.9L674.6 418.5L650.6 388.9L626.6 359.2L606.6 334.3"/>
<polyline points="1909.7,1837.0 1890.8,1817.5 1870.8,1796.7 1850.8,1775.8 1830.8,1754.7 1810.8,1733.5 1790.8,1712.1 1770.8,1690.7 1750.8,1669.0 1730.8,1647.3 1710.8,1625.4 1690.8,1603.4 1670.8,1581.2 1650.8,1559.0 1630.8,1536.5 1610.8,1514.0 1590.8,1491.4 1570.8,1468.6 1550.8,1445.7 1530.8,1422.7 1510.8,1399.5 1490.8,1376.3 1470.8,1352.9 1450.8,1329.4 1430.8,1305.8 1410.8,1282.1 1390.8,1258.2 1370.8,1234.3 1350.8,1210.3 1330.8,1186.1 1310.8,1161.8 1290.8,1137.5 1270.8,1113.0 1250.8,1088.4 1230.8,1063.8 1210.8,1039.0 1190.8,1014.1 1178.8,999.2"/>
<polyline points="1925.8,1837.0 1906.9,1817.6 1886.9,1797.0 1866.9,1776.3 1846.9,1755.5 1826.9,1734.4 1806.9,1713.3 1786.9,1692.0 1766.9,1670.6 1746.9,1649.0 1726.9,1627.4 1706.9,1605.5 1686.9,1583.6 1666.9,1561.5 1646.9,1539.3 1626.9,1517.0 1606.9,1494.5 1586.9,1471.9 1566.9,1449.2 1546.9,1426.4 1526.9,1403.5 1506.9,1380.4 1486.9,1357.2 1466.9,1333.9 1446.9,1310.5 1426.9,1287.0 1406.9,1263.4 1386.9,1239.6 1366.9,1215.8 1346.9,1191.8 1326.9,1167.7 1306.9,1143.6 1286.9,1119.3 1266.9,1094.9 1246.9,1070.5 1226.9,1045.9 1206.9,1021.2 1186.9,996.4 1186.9,996.4"/>
<polyline points="1944.0,1837.0 1925.0,1817.9 1905.0,1797.6 1885.0,1777.2 1865.0,1756.6 1845.0,1735.9 1825.0,1715.0 1805.0,1694.1 1785.0,1672.9 1765.0,1651.7 1745.0,1630.3 1725.0,1608.8 1705.0,1587.1 1685.0,1565.3 1665.0,1543.4 1645.0,1521.4 1625.0,1499.2 1605.0,1477.0 1585.0,1454.6 1565.0,1432.0 1545.0,1409.4 1525.0,1386.6 1505.0,1363.7 1485.0,1340.7 1465.0,1317.6 1445.0,1294.4 1425.0,1271.1 1405.0,1247.6 1385.0,1224.0 1365.0,1200.4 1345.0,1176.6 1325.0,1152.7 1305.0,1128.8 1285.0,1104.7 1265.0,1080.5 1245.0,1056.2 1225.0,1031.8 1205.0,1007.3 1197.0,997.5"/>
<polyline points="1967.1,1837.0 1948.0,1818.4 1928.0,1798.8 1908.0,1779.1 1888.0,1759.3 1868.0,1739.2 1848.0,1719.1 1828.0,1698.8 1808.0,1678.4 1788.0,1657.8 1768.0,1637.1 1748.0,1616.3 1728.0,1595.4 1708.0,1574.3 1688.0,1553.1 1668.0,1531.7 1648.0,1510.3 1628.0,1488.7 1608.0,1467.0 1588.0,1445.1 1568.0,1423.2 1548.0,1401.1 1528.0,1378.9 1508.0,1356.6 1488.0,1334.2 1468.0,1311.6 1448.0,1289.0 1428.0,1266.2 1408.0,1243.4 1388.0,1220.4 1368.0,1197.3 1348.0,1174.1 1328.0,1150.8 1308.0,1127.4 1288.0,1103.9 1268.0,1080.3 1248.0,1056.6 1228.0,1032.8 1208.0,1008.9 1200.0,999.3"/>
</g>
</g>
<g shape-rendering="crispEdges">
<polygon fill="#00ffff" points="442.7,146.8 456.4,148.5 485.5,161.3 511.1,183.5 536.8,210.9 557.3,233.9 550.4,229.7 529.9,212.6 506.0,190.3 482.0,169.8 461.5,156.2"/>
<polyline fill="none" stroke="#fff" stroke-width="1.5" points="470.0,157.0 500.0,176.0 530.0,203.0 553.0,230.0"/>
<polygon fill="#fff" points="502.6,149.3 509.4,151.0 529.9,163.0 547.0,178.4 564.1,198.9 581.2,221.1 596.6,243.3 609.4,268.1 598.3,260.4 581.2,248.5 570.9,236.5 553.8,210.9 536.8,186.9 519.7,166.4"/>
<polyline fill="none" stroke="#00ffff" stroke-width="3" points="468.4,145.9 500.0,152.0 520.0,166.0 537.0,187.0 554.0,211.0 571.0,237.0 590.0,256.0 610.3,269.0"/>
<polyline fill="none" stroke="#fff" stroke-width="4.5" points="552.0,156.0 567.5,169.8 584.6,190.3 601.7,214.3 618.8,241.6 634.2,269.0 643.0,288.0"/>
<polyline fill="none" stroke="#fff" stroke-width="2" points="560.0,153.0 590.0,172.0 620.0,207.0 650.0,252.0 675.0,292.0 697.4,327.0"/>
<polyline fill="none" stroke="#fff" stroke-width="2" points="900.0,580.0 1072.8,705.9 1245.7,840.7 1418.5,999.7 1520.0,1105.0"/>
</g>
</g>
<g stroke="#000" stroke-width="6.0" fill="none" stroke-linecap="round" stroke-linejoin="round">
<polyline points="381.6,174.5 391.8,182.1 402.0,189.7 412.2,197.2 422.4,204.8 432.6,212.3 442.8,219.9 453.0,227.4 463.2,235.0 473.4,242.7 483.6,250.4 493.8,258.2 504.0,266.0 515.3,274.8 526.7,283.7 538.0,292.6 549.3,301.6 560.7,310.7 572.0,319.7 583.3,328.9 594.7,338.1 606.0,347.3 617.3,356.5 628.7,365.7 640.0,375.0 654.6,386.9 669.2,398.9 683.8,410.8 698.4,422.8 713.0,434.8 727.6,446.9 742.2,459.1 756.8,471.3 771.4,483.7 786.0,496.3 800.6,509.0 815.2,521.8 826.0,531.4 836.8,541.2 847.6,551.0 858.4,560.9 869.2,570.9 880.0,581.0 890.8,591.0 901.6,601.1 912.4,611.2 923.2,621.3 934.0,631.3 944.8,641.3"/>
<polyline points="417.6,243.6 436.8,261.9 456.0,280.2 475.2,298.4 494.4,316.7 513.6,334.9 532.8,353.1 552.0,371.4 571.2,389.8 590.4,408.1 609.6,426.6 628.8,445.2 648.0,463.9 663.6,479.2 679.2,494.6 694.8,510.1 710.4,525.7 726.0,541.3 741.6,557.0 757.2,572.6 772.8,588.2 788.4,603.8 804.0,619.3 819.6,634.7 835.2,650.0 840.6,655.3 846.0,660.5 851.4,665.8 856.8,671.0 862.2,676.2 867.6,681.4 873.0,686.7 878.4,691.9 883.8,697.1 889.2,702.3 894.6,707.6 900.0,712.8 928.8,740.9 957.6,769.3 986.4,797.9 1015.2,826.7 1044.0,855.4 1072.8,884.2 1101.7,912.8 1130.5,941.2 1159.3,969.4 1188.1,997.2 1216.9,1024.7 1245.7,1051.6 1255.9,1061.0 1266.0,1070.3 1276.2,1079.5 1286.3,1088.7 1296.5,1097.9 1306.6,1107.1 1316.8,1116.2 1326.9,1125.4 1337.0,1134.5 1347.2,1143.7 1357.3,1152.8 1367.5,1162.0"/>
<polyline points="468.0,345.8 490.0,371.2 511.9,396.6 533.9,422.0 555.8,447.4 577.8,472.8 599.8,498.2 621.7,523.6 643.7,549.0 665.6,574.3 687.6,599.6 709.5,624.8 731.5,650.0 758.0,680.4 784.6,710.8 811.1,741.3 837.7,771.7 864.2,802.0 890.8,832.3 917.3,862.5 943.8,892.6 970.4,922.5 996.9,952.3 1023.5,981.9 1050.0,1011.3 1070.7,1034.2 1091.5,1057.0 1112.2,1079.7 1132.9,1102.3 1153.7,1124.9 1174.4,1147.4 1195.1,1169.8 1215.9,1192.0 1236.6,1214.2 1257.3,1236.3 1278.1,1258.2 1298.8,1280.0 1332.2,1314.9 1365.7,1349.5 1399.1,1383.8 1432.5,1417.9 1466.0,1451.6 1499.4,1485.1 1532.8,1518.3 1566.3,1551.2 1599.7,1583.8 1633.1,1616.2 1666.6,1648.2 1700.0,1680.0 1713.9,1693.1 1727.8,1706.1 1741.6,1719.0 1755.5,1731.9 1769.4,1744.7 1783.2,1757.4 1797.1,1770.2 1811.0,1782.9 1824.9,1795.7 1838.8,1808.4 1852.6,1821.2 1866.5,1834.0"/>
<polyline points="560.2,531.6 567.5,541.5 574.8,551.3 582.2,561.2 589.5,571.1 596.8,580.9 604.1,590.8 611.4,600.7 618.7,610.5 626.0,620.4 633.4,630.3 640.7,640.1 648.0,650.0 681.5,695.2 715.0,740.5 748.5,785.8 782.0,831.2 815.5,876.6 849.0,922.0 882.5,967.3 916.0,1012.7 949.5,1057.9 983.0,1103.2 1016.5,1148.3 1050.0,1193.4 1055.4,1200.6 1060.8,1207.9 1066.1,1215.1 1071.5,1222.3 1076.9,1229.6 1082.2,1236.8 1087.6,1244.0 1093.0,1251.3 1098.4,1258.5 1103.8,1265.7 1109.1,1272.8 1114.5,1280.0 1128.6,1298.8 1142.7,1317.5 1156.8,1336.1 1170.9,1354.7 1185.0,1373.3 1199.1,1391.7 1213.2,1410.1 1227.3,1428.3 1241.4,1446.4 1255.5,1464.4 1269.6,1482.3 1283.7,1500.0 1307.6,1529.5 1331.5,1558.5 1355.3,1586.9 1379.2,1614.9 1403.1,1642.6 1427.0,1670.0 1450.8,1697.3 1474.7,1724.5 1498.6,1751.6 1522.5,1778.9 1546.3,1806.3 1570.2,1834.0"/>
<polyline points="675.4,420.7 680.4,423.5 685.3,426.3 690.3,429.0 695.3,431.6 700.2,434.3 705.2,437.0 710.2,439.7 715.1,442.6 720.1,445.5 725.1,448.5 730.0,451.7 735.0,455.0 741.7,459.8 748.4,465.0 755.0,470.6 761.7,476.3 768.4,482.3 775.1,488.3 781.8,494.4 788.5,500.4 795.2,506.3 801.8,512.0 808.5,517.4 815.2,522.5 822.3,527.5 829.3,532.3 836.4,536.8 843.5,541.2 850.5,545.4 857.6,549.6 864.7,553.6 871.7,557.7 878.8,561.8 885.9,565.9 892.9,570.2 900.0,574.6 914.4,583.9 928.8,593.5 943.2,603.4 957.6,613.4 972.0,623.5 986.4,633.7 1000.8,643.8 1015.2,653.9 1029.6,663.8 1044.0,673.5 1058.4,683.0 1072.8,692.1 1087.2,700.9 1101.6,709.5 1116.0,717.9 1130.4,726.2 1144.8,734.3 1159.2,742.2 1173.7,750.1 1188.1,757.9 1202.5,765.7 1216.9,773.4 1231.3,781.1 1245.7,788.9 1260.1,796.6 1274.5,804.3 1288.9,812.0 1303.3,819.6 1317.7,827.1 1332.1,834.6 1346.5,842.0 1360.9,849.5 1375.3,856.8 1389.7,864.2 1404.1,871.5 1418.5,878.8 1435.3,887.3 1452.1,895.8 1468.9,904.2 1485.7,912.6 1502.5,920.9 1519.2,929.2 1536.0,937.5 1552.8,945.6 1569.6,953.7 1586.4,961.7 1603.2,969.5 1620.0,977.3 1626.7,980.4 1633.3,983.4 1640.0,986.4 1646.7,989.4 1653.3,992.4 1660.0,995.4 1666.7,998.4 1673.3,1001.4 1680.0,1004.3 1686.7,1007.2 1693.3,1010.1 1700.0,1013.0 1716.7,1020.1 1733.3,1026.9 1750.0,1033.6 1766.7,1040.2 1783.3,1046.6 1800.0,1053.0 1816.7,1059.3 1833.3,1065.6 1850.0,1071.9 1866.7,1078.2 1883.3,1084.5 1900.0,1091.0 1911.0,1095.3 1922.0,1099.7 1933.0,1104.1 1944.0,1108.5 1955.0,1112.9 1966.0,1117.3 1977.0,1121.7 1988.0,1126.0 1999.0,1130.2 2010.0,1134.4 2021.0,1138.5 2032.0,1142.5 2057.0,1151.1 2082.0,1159.2 2107.0,1166.8 2132.0,1174.0 2157.0,1180.9 2182.0,1187.6 2207.0,1194.1 2232.0,1200.5 2257.0,1206.9 2282.0,1213.4 2307.0,1220.1 2332.0,1227.0"/>
<polyline points="1065.9,889.1 1080.9,902.8 1095.9,916.6 1110.9,930.4 1125.8,944.3 1140.8,958.1 1155.8,971.9 1170.8,985.7 1185.8,999.4 1200.8,1013.0 1215.7,1026.5 1230.7,1039.8 1245.7,1053.0 1252.4,1058.9 1259.2,1064.7 1265.9,1070.6 1272.6,1076.5 1279.4,1082.3 1286.1,1088.1 1292.8,1093.9 1299.6,1099.6 1306.3,1105.3 1313.0,1110.9 1319.8,1116.5 1326.5,1122.0 1336.8,1130.2 1347.1,1138.3 1357.4,1146.2 1367.7,1153.9 1378.0,1161.5 1388.2,1169.0 1398.5,1176.5 1408.8,1184.0 1419.1,1191.4 1429.4,1198.9 1439.7,1206.4 1450.0,1214.0 1459.7,1221.2 1469.3,1228.4 1479.0,1235.6 1488.7,1242.8 1498.3,1250.0 1508.0,1257.2 1517.7,1264.4 1527.3,1271.5 1537.0,1278.7 1546.7,1285.8 1556.3,1292.9 1566.0,1300.0 1597.7,1323.1 1629.3,1346.0 1661.0,1368.9 1692.7,1391.6 1724.3,1414.0 1756.0,1436.3 1787.7,1458.2 1819.3,1479.9 1851.0,1501.3 1882.7,1522.2 1914.3,1542.8 1946.0,1563.0 1977.2,1582.4 2008.5,1601.2 2039.8,1619.5 2071.0,1637.4 2102.2,1655.0 2133.5,1672.4 2164.8,1689.6 2196.0,1706.7 2227.2,1723.8 2258.5,1741.0 2289.8,1758.4 2321.0,1776.0"/>
<polyline stroke-width="4" stroke-linejoin="miter" points="675.7,422.8 679.1,423.6 687.7,430.2 688.1,426.0 692.6,431.0 697.4,433.9 706.1,434.8 711.2,440.7 712.3,443.2 718.7,444.6 723.8,450.4 729.7,448.2 735.3,457.8 740.5,457.0 747.7,469.4 757.9,472.3 764.2,479.8 767.7,478.2 776.0,488.9 781.0,491.6 787.9,500.1 793.8,504.2 801.6,515.6 809.0,515.3 813.9,522.0 820.5,524.5 829.4,528.2 836.3,535.5 844.7,543.7 851.7,547.3 856.8,551.2 863.7,554.4 870.7,557.1 876.2,559.2 888.7,563.2 894.1,571.7 901.3,574.4 907.8,574.9 911.8,580.9 919.5,584.7 926.6,594.1 934.1,603.0 944.3,603.8 951.6,606.0 960.2,616.8 966.2,618.3 974.1,626.0 980.2,632.8 987.2,632.4 993.9,635.7 999.7,645.2 1009.0,651.7 1016.5,654.2 1020.9,658.8 1031.1,665.6 1036.7,668.4 1043.0,671.6 1049.7,680.6 1058.9,680.8 1065.3,684.8 1071.8,693.5 1080.5,696.4 1086.4,701.8 1096.1,704.8 1100.1,706.9 1107.3,716.5 1116.2,719.9 1122.0,720.6 1131.1,728.5 1137.1,727.6 1146.2,733.0 1152.9,736.2 1160.0,744.3 1167.3,745.3 1174.5,747.9 1180.2,753.5 1189.4,755.8 1196.6,763.6 1204.2,764.9 1208.6,768.0 1218.1,776.2 1224.8,777.2 1230.5,783.1 1239.8,782.6 1244.7,790.9 1254.2,791.7 1259.3,796.2 1267.4,798.1 1275.7,804.5 1282.7,806.5 1290.6,813.5 1295.5,818.5 1304.0,821.6 1308.9,820.7 1318.6,825.9 1325.0,828.8 1333.8,834.6 1340.5,835.8 1346.4,839.4 1355.1,845.4 1359.3,846.9 1368.2,850.6 1374.2,856.5 1382.5,861.0 1390.1,863.4 1397.3,865.8 1403.3,873.3 1410.1,873.5 1417.6,878.7 1425.1,880.2 1435.2,885.3 1444.3,893.3 1452.4,896.9 1460.1,897.3 1468.7,903.4 1477.6,906.2 1484.7,914.5 1493.2,916.2 1503.3,920.2 1510.2,925.7 1519.4,929.6 1526.8,933.1 1535.1,936.7 1544.8,940.1 1552.4,947.2 1562.1,949.6 1570.1,954.1 1578.0,958.8 1585.8,962.7 1593.9,966.8 1603.5,969.4 1611.9,973.3 1620.5,976.1 1626.7,981.5 1634.2,982.5 1639.5,987.7 1646.4,988.0 1653.7,992.2 1660.5,995.4 1666.7,998.1 1672.9,1002.6 1680.3,1005.2 1687.4,1006.4 1694.1,1011.3 1700.0,1013.2 1707.6,1017.4 1716.0,1020.2 1724.3,1022.1 1733.5,1026.9 1742.0,1031.2 1750.9,1032.3 1758.6,1037.2 1767.0,1040.3 1775.1,1044.6 1783.2,1046.7 1792.0,1048.5 1799.9,1051.7 1807.6,1054.6 1816.1,1058.4 1825.0,1062.7 1834.0,1065.6 1842.4,1068.4 1850.5,1072.0 1858.6,1074.3 1867.5,1079.0 1874.3,1081.5 1884.3,1083.1 1891.3,1088.5 1899.1,1091.8 1911.1,1096.1 1922.1,1101.1 1932.7,1104.3 1943.1,1108.7 1954.8,1114.4 1966.9,1116.1 1976.1,1120.4 1987.4,1126.7 1999.1,1130.4 2009.9,1132.8 2020.8,1140.1 2032.6,1142.7 2039.8,1146.7 2048.5,1148.6 2056.4,1150.6 2065.0,1153.5 2072.7,1157.0 2081.4,1159.5 2090.6,1162.4 2098.3,1163.6 2107.5,1166.4 2114.7,1170.5 2122.7,1172.8 2131.6,1173.6 2141.3,1176.1 2149.1,1178.3 2157.8,1181.6 2165.3,1181.8 2173.4,1185.3 2181.6,1187.7 2189.8,1189.7 2198.7,1192.5 2207.5,1194.8 2215.2,1196.1 2224.4,1197.9 2232.5,1202.1 2241.1,1202.8 2248.3,1205.2 2257.4,1207.0 2265.0,1209.0 2272.9,1210.6 2281.3,1214.0 2291.2,1214.6 2297.8,1218.7 2306.7,1220.1 2314.5,1221.4 2324.0,1225.0 2332.7,1228.5"/>
<polyline stroke-width="4" stroke-linejoin="miter" points="1065.2,890.1 1073.1,896.0 1080.4,906.6 1089.0,906.8 1096.8,920.3 1105.3,924.0 1108.5,932.9 1120.4,939.2 1125.5,943.3 1134.5,948.1 1142.2,958.1 1146.2,967.6 1155.3,968.8 1161.7,981.7 1169.2,988.0 1179.7,989.3 1185.5,1001.7 1193.2,1009.2 1200.2,1014.1 1206.9,1022.5 1217.4,1027.0 1222.4,1032.0 1231.2,1036.9 1238.3,1044.8 1244.9,1051.6 1254.0,1056.3 1257.9,1062.1 1263.6,1070.0 1274.3,1079.7 1279.3,1081.7 1287.9,1088.3 1293.1,1095.1 1297.5,1102.3 1304.4,1105.6 1315.1,1111.3 1319.0,1118.3 1328.4,1122.9 1334.7,1133.3 1344.8,1139.7 1359.3,1143.4 1367.8,1155.5 1376.4,1159.5 1386.2,1166.3 1396.7,1174.8 1409.3,1184.5 1419.6,1191.9 1429.9,1197.9 1439.8,1205.1 1450.0,1215.0 1459.6,1220.6 1469.0,1228.1 1479.7,1236.9 1489.1,1244.2 1498.8,1249.4 1507.9,1257.8 1518.0,1264.9 1527.3,1270.5 1537.8,1277.9 1547.5,1284.8 1557.1,1292.6 1566.5,1298.6 1572.2,1303.9 1579.0,1309.7 1584.9,1314.4 1592.1,1317.3 1597.8,1323.6 1604.2,1327.0 1611.0,1331.5 1617.2,1336.8 1622.4,1342.4 1628.6,1346.9 1635.8,1351.7 1642.5,1354.9 1647.7,1359.1 1653.8,1364.7 1660.3,1368.0 1666.9,1373.2 1674.0,1377.8 1680.0,1381.3 1686.1,1386.2 1693.1,1390.2 1699.2,1396.6 1705.3,1399.3 1711.2,1404.3 1717.6,1408.9 1725.1,1414.8 1731.3,1419.1 1736.7,1424.2 1743.3,1426.5 1750.1,1431.1 1756.5,1436.9 1762.0,1440.5 1769.0,1445.5 1775.0,1448.6 1781.0,1454.4 1787.6,1458.8 1794.3,1462.2 1799.7,1467.4 1806.4,1471.4 1812.4,1474.6 1819.2,1480.4 1825.0,1485.0 1832.6,1488.9 1838.8,1492.0 1844.0,1496.5 1850.4,1501.0 1857.8,1504.8 1864.3,1509.5 1869.4,1514.3 1876.2,1517.6 1882.7,1523.6 1889.4,1525.8 1896.1,1529.6 1901.5,1534.2 1908.8,1537.3 1914.6,1542.9 1920.1,1547.3 1927.5,1551.6 1932.6,1555.8 1939.4,1560.0 1946.1,1561.8 1952.7,1567.1 1958.4,1571.1 1964.7,1573.3 1971.7,1577.9 1976.9,1581.1 1983.9,1587.3 1989.7,1590.8 1995.7,1593.3 2001.9,1596.8 2008.6,1600.7 2014.0,1605.4 2020.7,1608.2 2026.7,1610.9 2033.8,1615.6 2040.5,1618.2 2046.5,1621.7 2051.7,1625.3 2058.5,1629.8 2064.4,1635.2 2071.1,1638.6 2077.9,1640.5 2083.8,1643.6 2089.5,1648.5 2096.1,1650.3 2101.5,1655.8 2108.8,1658.9 2114.3,1662.8 2121.1,1664.5 2126.7,1669.3 2134.3,1672.6 2139.4,1676.4 2145.5,1679.7 2152.1,1681.4 2158.5,1686.2 2165.4,1690.2 2170.7,1693.4 2176.8,1696.9 2183.7,1700.2 2189.2,1703.9 2196.1,1707.4 2201.5,1710.8 2209.3,1713.8 2214.1,1718.2 2221.1,1719.8 2227.5,1724.8 2232.8,1727.4 2240.0,1731.9 2245.2,1734.2 2252.6,1738.0 2259.1,1741.5 2265.0,1744.8 2270.4,1749.0 2277.3,1750.1 2284.0,1755.5 2290.0,1757.1 2296.3,1761.5 2302.8,1764.5 2308.2,1767.8 2313.9,1772.0 2321.3,1775.8"/>
</g>
<path d="M1747.7 1334.8L1640 1390" stroke="#000" stroke-width="5" fill="none"/>
<polygon points="1589.9,1417.9 1640.9,1366.8 1636.2,1391.8 1657.5,1408.4" fill="#000"/>
<text x="1764.5" y="1352.6" font-size="68" textLength="238" lengthAdjust="spacingAndGlyphs">caustic</text>
<text id="title" x="1298.9" y="91.3" font-size="58.77" text-anchor="middle">Isochrones (5:5:20 ms - black) / SR rays (cyan) / TP rays (gray) / RD=100m</text>
<text x="1299.5" y="1973" font-size="58.3" text-anchor="middle">range (m)</text>
<text transform="translate(80,977.6) rotate(-90)" font-size="58.3" text-anchor="middle">depth (m)</text>
<text x="263.0" y="1904.7" font-size="58.3" text-anchor="middle">0</text>
<text x="470.4" y="1904.7" font-size="58.3" text-anchor="middle">1000</text>
<text x="677.8" y="1904.7" font-size="58.3" text-anchor="middle">2000</text>
<text x="885.2" y="1904.7" font-size="58.3" text-anchor="middle">3000</text>
<text x="1092.6" y="1904.7" font-size="58.3" text-anchor="middle">4000</text>
<text x="1300.0" y="1904.7" font-size="58.3" text-anchor="middle">5000</text>
<text x="1507.4" y="1904.7" font-size="58.3" text-anchor="middle">6000</text>
<text x="1714.8" y="1904.7" font-size="58.3" text-anchor="middle">7000</text>
<text x="1922.2" y="1904.7" font-size="58.3" text-anchor="middle">8000</text>
<text x="2129.6" y="1904.7" font-size="58.3" text-anchor="middle">9000</text>
<text x="2337.0" y="1904.7" font-size="58.3" text-anchor="middle">10000</text>
<text x="240.3" y="139.9" font-size="58.3" text-anchor="end">0</text>
<text x="237.3" y="295.5" font-size="58.3" text-anchor="end">100</text>
<text x="237.3" y="451.2" font-size="58.3" text-anchor="end">200</text>
<text x="237.3" y="606.8" font-size="58.3" text-anchor="end">300</text>
<text x="237.3" y="762.5" font-size="58.3" text-anchor="end">400</text>
<text x="237.3" y="918.1" font-size="58.3" text-anchor="end">500</text>
<text x="237.3" y="1073.7" font-size="58.3" text-anchor="end">600</text>
<text x="237.3" y="1229.4" font-size="58.3" text-anchor="end">700</text>
<text x="237.3" y="1385.0" font-size="58.3" text-anchor="end">800</text>
<text x="237.3" y="1540.7" font-size="58.3" text-anchor="end">900</text>
<text x="237.3" y="1696.3" font-size="58.3" text-anchor="end">1000</text>
<text x="240.3" y="1851.9" font-size="58.3" text-anchor="end">1100</text>
</svg></body></html>
